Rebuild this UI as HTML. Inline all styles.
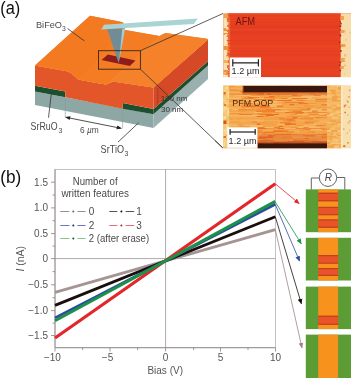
<!DOCTYPE html>
<html><head><meta charset="utf-8">
<style>
html,body{margin:0;padding:0;background:#fff;width:351px;height:378px;overflow:hidden}
svg{display:block}
text{font-family:"Liberation Sans",sans-serif}
</style></head><body>
<svg width="351" height="378" viewBox="0 0 351 378">
<filter id="bl" x="0" y="0" width="1" height="1"><feGaussianBlur stdDeviation="0.35"/></filter>
<g filter="url(#bl)">
<rect width="351" height="378" fill="#fff"/>

<!-- ===== Panel (a) 3D block ===== -->
<g id="block">
  <!-- substrate (gray) front face -->
  <polygon points="35,91.5 153.5,114.3 153.5,128 35,105" fill="#8da7a5"/>
  <!-- substrate right face -->
  <polygon points="153.5,114.3 208,65.6 208,79 153.5,128" fill="#9ab0ae"/>
  <!-- green SrRuO3 front left electrode -->
  <polygon points="35,85.7 65.3,91.4 65.3,97.2 35,91.5" fill="#1f4f2e"/>
  <!-- green front right electrode -->
  <polygon points="122.8,103.1 153.5,109 153.5,114.3 122.8,108.8" fill="#1f4f2e"/>
  <!-- green right face -->
  <polygon points="153.5,109 208,61.2 208,65.6 153.5,114.3" fill="#1f4f2e"/>
  <!-- BFO front face -->
  <polygon points="35,65.5 60,70 66,71 69.1,72 72.5,74.2 78.2,79.4 95,82.7 106.4,84.4 109.8,82.7 113.2,81.5 153.5,87.5 153.5,109 122.8,103.1 122.8,108.8 65.3,97.2 65.3,91.4 35,85.7" fill="#e2572a"/>
  <!-- BFO right face -->
  <polygon points="153.5,87.5 208,39.5 208,61.2 153.5,109" fill="#d64926"/>
  <!-- BFO top face base -->
  <polygon points="35,65.5 90,15.7 123,22.2 125,30 159.3,35.9 165.5,33 207,38.8 208,39.5 153.5,87.5 113.2,81.5 109.8,82.7 106.4,84.4 95,82.7 78.2,79.4 72.5,74.2 69.1,72 66,71 60,70" fill="#f47c23"/>
  <!-- BFO top face: left plateau -->
  <polygon points="35,65.5 90,15.7 123,22.2 66,71 60,70" fill="#f47a20"/>
  <!-- left wall -->
  <polygon points="66,71 123,22.2 125,30 78.2,79.4 72.5,74.2 69.1,72" fill="#f47a21"/>
  <!-- trench floor -->
  <polygon points="78.2,79.4 125,30 159.3,35.9 106.4,84.4 95,82.7" fill="#f47c22"/>
  <!-- right wall -->
  <polygon points="106.4,84.4 159.3,35.9 165.5,33 113.2,81.5 109.8,82.7" fill="#f5842b"/>
  <!-- right plateau -->
  <polygon points="113.2,81.5 165.5,33 207,38.8 208,39.5 153.5,87.5" fill="#f5822a"/>
  <!-- written domain -->
  <polygon points="107.9,54.4 135.5,60.4 129.8,65.9 101.5,59.9" fill="#8e1a1f"/>
  <!-- cantilever -->
  <polygon points="104,24.7 197.8,18.4 193.8,24 101.2,29.5" fill="#a9d4d3"/>
  <!-- tip (pyramid) -->
  <polygon points="107.3,29.3 125.2,28.6 118.6,63" fill="#6f8d97"/>
  <polygon points="122.3,28.8 125.2,28.6 119,62" fill="#a6cdd0"/>
  <!-- zoom box -->
  <rect x="98.5" y="50.7" width="41.9" height="18.5" fill="none" stroke="#3a2418" stroke-width="0.9"/>
  <line x1="140.4" y1="50.7" x2="223" y2="13.5" stroke="#333" stroke-width="0.8"/>
  <line x1="140.4" y1="69.2" x2="222.7" y2="147.8" stroke="#333" stroke-width="0.8"/>
  <!-- BiFeO3 leader -->
  <line x1="67.5" y1="28.5" x2="84.5" y2="41" stroke="#333" stroke-width="0.8"/>
  <!-- SrRuO3 leader -->
  <line x1="51.4" y1="92.8" x2="48.5" y2="117.7" stroke="#333" stroke-width="0.8"/>
  <!-- SrTiO3 leader -->
  <line x1="138.6" y1="122.8" x2="118" y2="142.1" stroke="#333" stroke-width="0.8"/>
  <!-- 6um dimension -->
  <line x1="65.3" y1="97.2" x2="65.3" y2="117.5" stroke="#8a9a9a" stroke-width="0.6"/>
  <line x1="122.6" y1="108.6" x2="122.6" y2="128.5" stroke="#8a9a9a" stroke-width="0.6"/>
  <line x1="67" y1="117.5" x2="120.5" y2="128.2" stroke="#222" stroke-width="0.8"/>
  <polygon points="65,117.1 70.5,116.2 69.6,120" fill="#222"/>
  <polygon points="122,128.5 116.3,129.3 117.5,125.6" fill="#222"/>
  <!-- 100 nm dimension -->
  <line x1="157.8" y1="88" x2="157.8" y2="106" stroke="#333" stroke-width="0.6" stroke-dasharray="1,0.8"/>
</g>

<!-- texts panel a -->
<g fill="#4a4a4a">
  <text x="0.2" y="14" font-size="18.9" fill="#111" textLength="20" lengthAdjust="spacingAndGlyphs">(a)</text>
  <text x="36" y="27.6" font-size="9.9" textLength="26" lengthAdjust="spacingAndGlyphs">BiFeO</text>
  <text x="62" y="31.3" font-size="6.8">3</text>
  <text x="30.6" y="130.2" font-size="10.2" textLength="27" lengthAdjust="spacingAndGlyphs">SrRuO</text>
  <text x="58.4" y="133.3" font-size="7">3</text>
  <text x="100.6" y="152.8" font-size="10.2" textLength="23.4" lengthAdjust="spacingAndGlyphs">SrTiO</text>
  <text x="124.6" y="156" font-size="7">3</text>
  <text x="80" y="132.7" font-size="9.4" textLength="18.8" lengthAdjust="spacingAndGlyphs">6 <tspan font-style="italic">µ</tspan>m</text>
  <text x="160.7" y="100.5" font-size="8" fill="#333">100 nm</text>
  <text x="161" y="111.6" font-size="8" fill="#333">30 nm</text>
</g>
<!-- ===== AFM image ===== -->
<defs><clipPath id="cafm"><rect x="223.2" y="13.2" width="127.8" height="64"/></clipPath><clipPath id="cpfm"><rect x="223.2" y="85.5" width="127.8" height="62.8"/></clipPath></defs>
<g id="afm" clip-path="url(#cafm)">
  <rect x="223.2" y="13.2" width="127.8" height="64" fill="#e6472a"/>
  <rect x="223.2" y="13.2" width="6.5" height="64" fill="#f8dfae"/>
  <rect x="340.5" y="13.2" width="10.5" height="64" fill="#f7dca8"/>
<rect x="229.7" y="13.2" width="110.8" height="2.0" fill="#e94723"/>
<rect x="229.7" y="15.2" width="110.8" height="2.5" fill="#e84322"/>
<rect x="229.7" y="17.7" width="110.8" height="1.0" fill="#e94622"/>
<rect x="229.7" y="18.7" width="110.8" height="1.0" fill="#e64021"/>
<rect x="229.7" y="19.7" width="110.8" height="1.0" fill="#e94723"/>
<rect x="229.7" y="20.7" width="110.8" height="1.5" fill="#e43e20"/>
<rect x="229.7" y="22.2" width="110.8" height="2.5" fill="#e74121"/>
<rect x="229.7" y="24.7" width="110.8" height="1.5" fill="#e43e20"/>
<rect x="229.7" y="26.2" width="110.8" height="2.5" fill="#e43e20"/>
<rect x="229.7" y="28.7" width="110.8" height="1.0" fill="#e94723"/>
<rect x="229.7" y="29.7" width="110.8" height="1.0" fill="#e84222"/>
<rect x="229.7" y="30.7" width="110.8" height="2.5" fill="#e43e20"/>
<rect x="229.7" y="33.2" width="110.8" height="1.5" fill="#e43e20"/>
<rect x="229.7" y="34.7" width="110.8" height="1.5" fill="#e64021"/>
<rect x="229.7" y="36.2" width="110.8" height="1.5" fill="#e84222"/>
<rect x="229.7" y="37.7" width="110.8" height="2.0" fill="#e84222"/>
<rect x="229.7" y="39.7" width="110.8" height="1.5" fill="#e43e20"/>
<rect x="229.7" y="41.2" width="110.8" height="1.5" fill="#e64021"/>
<rect x="229.7" y="42.7" width="110.8" height="1.0" fill="#e84222"/>
<rect x="229.7" y="43.7" width="110.8" height="1.5" fill="#e74121"/>
<rect x="229.7" y="45.2" width="110.8" height="2.5" fill="#e94522"/>
<rect x="229.7" y="47.7" width="110.8" height="2.5" fill="#e84322"/>
<rect x="229.7" y="50.2" width="110.8" height="2.5" fill="#e64021"/>
<rect x="229.7" y="52.7" width="110.8" height="1.5" fill="#e94522"/>
<rect x="229.7" y="54.2" width="110.8" height="1.5" fill="#e43e20"/>
<rect x="229.7" y="55.7" width="110.8" height="2.0" fill="#e84222"/>
<rect x="229.7" y="57.7" width="110.8" height="2.0" fill="#e84422"/>
<rect x="229.7" y="59.7" width="110.8" height="2.0" fill="#e84322"/>
<rect x="229.7" y="61.7" width="110.8" height="1.0" fill="#e43e20"/>
<rect x="229.7" y="62.7" width="110.8" height="2.5" fill="#e53f21"/>
<rect x="229.7" y="65.2" width="110.8" height="2.0" fill="#e53f21"/>
<rect x="229.7" y="67.2" width="110.8" height="2.5" fill="#e74121"/>
<rect x="229.7" y="69.7" width="110.8" height="1.0" fill="#e94522"/>
<rect x="229.7" y="70.7" width="110.8" height="2.0" fill="#e64021"/>
<rect x="229.7" y="72.7" width="110.8" height="2.0" fill="#e84322"/>
<rect x="229.7" y="74.7" width="110.8" height="2.5" fill="#e43e20"/>
<rect x="226.9" y="13.2" width="3.3" height="1.1" fill="#e84a26"/>
<rect x="226.4" y="14.3" width="3.8" height="2.0" fill="#e84a26"/>
<rect x="227.7" y="16.3" width="2.5" height="1.5" fill="#e84a26"/>
<rect x="226.9" y="17.8" width="3.3" height="2.2" fill="#ec6630"/>
<rect x="227.1" y="20.0" width="3.1" height="2.3" fill="#ec6630"/>
<rect x="227.8" y="22.4" width="2.4" height="1.5" fill="#ec6630"/>
<rect x="228.2" y="23.9" width="2.0" height="1.1" fill="#ea5a2c"/>
<rect x="227.2" y="25.0" width="3.0" height="2.1" fill="#ec6630"/>
<rect x="227.4" y="27.1" width="2.8" height="1.1" fill="#e84a26"/>
<rect x="226.6" y="28.2" width="3.6" height="1.4" fill="#ec6630"/>
<rect x="226.9" y="29.6" width="3.3" height="2.3" fill="#ec6630"/>
<rect x="228.0" y="31.9" width="2.2" height="2.5" fill="#ec6630"/>
<rect x="226.6" y="34.4" width="3.6" height="2.4" fill="#ea5a2c"/>
<rect x="227.9" y="36.8" width="2.3" height="1.2" fill="#ea5a2c"/>
<rect x="227.7" y="38.1" width="2.5" height="1.7" fill="#ec6630"/>
<rect x="226.6" y="39.8" width="3.6" height="1.4" fill="#e84a26"/>
<rect x="227.7" y="41.2" width="2.5" height="1.6" fill="#ea5a2c"/>
<rect x="227.5" y="42.8" width="2.7" height="2.0" fill="#e84a26"/>
<rect x="228.1" y="44.8" width="2.1" height="2.0" fill="#ec6630"/>
<rect x="228.2" y="46.8" width="2.0" height="2.3" fill="#e84a26"/>
<rect x="227.2" y="49.1" width="3.0" height="2.2" fill="#ec6630"/>
<rect x="227.5" y="51.3" width="2.7" height="1.6" fill="#ec6630"/>
<rect x="226.4" y="52.9" width="3.8" height="1.1" fill="#ea5a2c"/>
<rect x="226.5" y="54.0" width="3.7" height="1.7" fill="#e84a26"/>
<rect x="226.2" y="55.7" width="4.0" height="1.1" fill="#ea5a2c"/>
<rect x="228.7" y="56.8" width="1.5" height="1.8" fill="#e84a26"/>
<rect x="228.5" y="58.6" width="1.7" height="1.0" fill="#e84a26"/>
<rect x="227.8" y="59.6" width="2.4" height="1.6" fill="#ec6630"/>
<rect x="227.4" y="61.2" width="2.8" height="1.9" fill="#ea5a2c"/>
<rect x="228.8" y="63.1" width="1.4" height="2.3" fill="#ec6630"/>
<rect x="227.0" y="65.3" width="3.2" height="1.7" fill="#ea5a2c"/>
<rect x="227.1" y="67.1" width="3.1" height="1.2" fill="#ec6630"/>
<rect x="228.0" y="68.2" width="2.2" height="1.7" fill="#e84a26"/>
<rect x="228.7" y="69.9" width="1.5" height="1.0" fill="#e84a26"/>
<rect x="228.0" y="71.0" width="2.2" height="1.5" fill="#ea5a2c"/>
<rect x="227.0" y="72.5" width="3.2" height="2.1" fill="#e84a26"/>
<rect x="228.0" y="74.7" width="2.2" height="2.3" fill="#ec6630"/>
<rect x="228.6" y="76.9" width="1.6" height="0.3" fill="#ec6630"/>
<rect x="223.5" y="14.0" width="4.5" height="4.0" fill="#f2a048"/>
<rect x="223.5" y="28.0" width="4.5" height="3.0" fill="#ee9040"/>
<rect x="223.5" y="33.0" width="4.5" height="2.0" fill="#ee9040"/>
<rect x="223.5" y="46.0" width="4.5" height="4.0" fill="#ee9040"/>
<rect x="223.5" y="60.0" width="4.5" height="3.0" fill="#f0b058"/>
<rect x="223.5" y="70.0" width="4.5" height="5.0" fill="#ee9040"/>
<rect x="225.9" y="27.0" width="2.5" height="2.3" fill="#f8e4b8"/>
<rect x="225.6" y="63.8" width="1.3" height="1.8" fill="#f6d498"/>
<rect x="226.5" y="58.4" width="2.2" height="1.7" fill="#f8e4b8"/>
<rect x="226.4" y="56.0" width="1.7" height="2.4" fill="#f6d498"/>
<rect x="224.4" y="72.2" width="1.3" height="1.3" fill="#f8e4b8"/>
<rect x="224.8" y="34.1" width="2.5" height="1.9" fill="#f8e4b8"/>
<rect x="225.4" y="42.8" width="2.2" height="1.1" fill="#fbecc8"/>
<rect x="224.5" y="20.6" width="2.1" height="1.3" fill="#f8e4b8"/>
<rect x="225.3" y="40.0" width="1.1" height="2.4" fill="#fbecc8"/>
<rect x="224.5" y="37.7" width="2.4" height="2.1" fill="#f8e4b8"/>
<rect x="223.3" y="74.6" width="1.9" height="1.7" fill="#fbecc8"/>
<rect x="225.9" y="22.2" width="2.5" height="2.0" fill="#f6d498"/>
<rect x="225.0" y="22.8" width="1.0" height="2.2" fill="#fbecc8"/>
<rect x="224.9" y="53.3" width="2.4" height="1.7" fill="#f8e4b8"/>
<rect x="339.1" y="64.6" width="1.3" height="1.3" fill="#a8201a"/>
<rect x="339.7" y="29.4" width="1.3" height="1.4" fill="#a8201a"/>
<rect x="340.3" y="22.9" width="1.4" height="1.5" fill="#a8201a"/>
<rect x="340.2" y="50.0" width="1.4" height="1.9" fill="#a8201a"/>
<rect x="339.7" y="45.1" width="1.5" height="1.0" fill="#a8201a"/>
<rect x="339.1" y="41.4" width="1.0" height="1.8" fill="#a8201a"/>
<rect x="339.6" y="25.3" width="1.7" height="1.6" fill="#a8201a"/>
<rect x="339.6" y="34.6" width="1.6" height="1.8" fill="#a8201a"/>
<rect x="339.7" y="21.4" width="1.2" height="1.3" fill="#a8201a"/>
<rect x="339.6" y="61.3" width="1.6" height="1.8" fill="#a8201a"/>
<rect x="339.5" y="69.7" width="1.6" height="1.5" fill="#a8201a"/>
<rect x="339.9" y="45.7" width="1.5" height="1.5" fill="#a8201a"/>
<rect x="340.5" y="16.0" width="3.4" height="4.0" fill="#f0a050"/>
<rect x="340.5" y="30.0" width="4.1" height="3.0" fill="#eea060"/>
<rect x="340.5" y="44.0" width="4.8" height="3.0" fill="#f0a050"/>
<rect x="340.5" y="58.0" width="4.5" height="4.0" fill="#f0a050"/>
<rect x="340.5" y="66.0" width="3.2" height="3.0" fill="#eea060"/>
<rect x="343.5" y="40.5" width="1.4" height="1.1" fill="#f6d0a0"/>
<rect x="343.9" y="31.9" width="2.2" height="2.4" fill="#f6d0a0"/>
<rect x="344.0" y="54.0" width="2.3" height="2.5" fill="#f4c080"/>
<rect x="343.7" y="59.3" width="2.3" height="1.2" fill="#f6d0a0"/>
<rect x="344.1" y="64.6" width="1.6" height="1.8" fill="#f2b878"/>
<rect x="345.5" y="39.2" width="1.1" height="1.5" fill="#f2b878"/>
<rect x="346.1" y="47.4" width="1.0" height="1.5" fill="#f6d0a0"/>
<rect x="349.7" y="31.5" width="1.2" height="2.4" fill="#f4c080"/>
<rect x="343.7" y="73.3" width="1.4" height="1.1" fill="#f4c080"/>
<rect x="343.9" y="29.9" width="1.6" height="2.4" fill="#f2b878"/>
  <rect x="229.7" y="57.5" width="31.3" height="19.6" fill="#fff"/>
  <line x1="232.5" y1="62.8" x2="258.7" y2="62.8" stroke="#222" stroke-width="1.2"/>
  <line x1="232.8" y1="59.2" x2="232.8" y2="66.4" stroke="#222" stroke-width="1.2"/>
  <line x1="258.4" y1="59.2" x2="258.4" y2="66.4" stroke="#222" stroke-width="1.2"/>
  <text x="231.6" y="74.3" font-size="9.8" fill="#2a2a2a" textLength="28" lengthAdjust="spacingAndGlyphs">1.2 µm</text>
  <text x="235.4" y="24.6" font-size="10.3" fill="#6e1510" textLength="19.8" lengthAdjust="spacingAndGlyphs">AFM</text>
</g>

<!-- ===== PFM image ===== -->
<g id="pfm" clip-path="url(#cpfm)">
  <rect x="223.2" y="85.5" width="127.8" height="62.8" fill="#f09a40"/>
  <rect x="223.2" y="85.5" width="6" height="63" fill="#f5cf85"/>
  <rect x="327" y="85.5" width="14.5" height="63" fill="#f3a248"/>
  <rect x="341.5" y="85.5" width="9.5" height="63" fill="#f8dfae"/>
<rect x="229.2" y="85.5" width="5.2" height="1.7" fill="#ef9242"/>
<rect x="234.1" y="85.5" width="10.7" height="1.7" fill="#f3a94e"/>
<rect x="244.6" y="85.5" width="7.6" height="1.7" fill="#ee8230"/>
<rect x="251.8" y="85.5" width="4.0" height="1.7" fill="#f3a044"/>
<rect x="255.6" y="85.5" width="5.7" height="1.7" fill="#f2963a"/>
<rect x="260.9" y="85.5" width="6.8" height="1.7" fill="#f2963a"/>
<rect x="267.4" y="85.5" width="11.5" height="1.7" fill="#f4a54b"/>
<rect x="278.7" y="85.5" width="6.7" height="1.7" fill="#ea7028"/>
<rect x="285.1" y="85.5" width="14.4" height="1.7" fill="#f2973b"/>
<rect x="299.2" y="85.5" width="6.7" height="1.7" fill="#f29a3f"/>
<rect x="305.6" y="85.5" width="9.2" height="1.7" fill="#ef8937"/>
<rect x="314.5" y="85.5" width="12.8" height="1.7" fill="#f6b864"/>
<rect x="229.2" y="87.0" width="11.4" height="1.2" fill="#f3a74c"/>
<rect x="240.3" y="87.0" width="10.1" height="1.2" fill="#f5ad54"/>
<rect x="250.1" y="87.0" width="15.5" height="1.2" fill="#f5aa52"/>
<rect x="265.3" y="87.0" width="6.7" height="1.2" fill="#f5aa52"/>
<rect x="271.7" y="87.0" width="5.9" height="1.2" fill="#ee802e"/>
<rect x="277.4" y="87.0" width="11.5" height="1.2" fill="#ea7028"/>
<rect x="288.5" y="87.0" width="13.2" height="1.2" fill="#ee8331"/>
<rect x="301.4" y="87.0" width="9.1" height="1.2" fill="#f3a348"/>
<rect x="310.2" y="87.0" width="5.6" height="1.2" fill="#ef8b39"/>
<rect x="315.5" y="87.0" width="11.8" height="1.2" fill="#f08d3b"/>
<rect x="229.2" y="88.0" width="3.5" height="1.2" fill="#f4ad52"/>
<rect x="232.4" y="88.0" width="9.9" height="1.2" fill="#f5b158"/>
<rect x="242.0" y="88.0" width="10.0" height="1.2" fill="#f5ac53"/>
<rect x="251.7" y="88.0" width="15.5" height="1.2" fill="#f2963a"/>
<rect x="266.8" y="88.0" width="11.9" height="1.2" fill="#f3a044"/>
<rect x="278.4" y="88.0" width="8.9" height="1.2" fill="#f7ba66"/>
<rect x="287.0" y="88.0" width="10.4" height="1.2" fill="#f6b965"/>
<rect x="297.1" y="88.0" width="15.9" height="1.2" fill="#ef8634"/>
<rect x="312.7" y="88.0" width="12.2" height="1.2" fill="#f5ac55"/>
<rect x="324.6" y="88.0" width="2.7" height="1.2" fill="#f4a951"/>
<rect x="229.2" y="89.0" width="8.6" height="1.2" fill="#f19b46"/>
<rect x="237.5" y="89.0" width="16.1" height="1.2" fill="#f4aa50"/>
<rect x="253.2" y="89.0" width="5.0" height="1.2" fill="#f2963a"/>
<rect x="257.9" y="89.0" width="11.4" height="1.2" fill="#ee802e"/>
<rect x="269.0" y="89.0" width="8.9" height="1.2" fill="#f2963a"/>
<rect x="277.6" y="89.0" width="4.4" height="1.2" fill="#f4a54b"/>
<rect x="281.7" y="89.0" width="8.3" height="1.2" fill="#ea7028"/>
<rect x="289.7" y="89.0" width="12.0" height="1.2" fill="#ee8331"/>
<rect x="301.4" y="89.0" width="11.1" height="1.2" fill="#f3a348"/>
<rect x="312.2" y="89.0" width="7.1" height="1.2" fill="#f6b864"/>
<rect x="319.0" y="89.0" width="5.7" height="1.2" fill="#f08f3c"/>
<rect x="324.4" y="89.0" width="2.9" height="1.2" fill="#f0913e"/>
<rect x="229.2" y="90.0" width="15.8" height="1.2" fill="#ef9242"/>
<rect x="244.7" y="90.0" width="7.5" height="1.2" fill="#f2973b"/>
<rect x="251.9" y="90.0" width="15.9" height="1.2" fill="#ee802e"/>
<rect x="267.5" y="90.0" width="6.1" height="1.2" fill="#f5aa52"/>
<rect x="273.3" y="90.0" width="3.3" height="1.2" fill="#f7ba66"/>
<rect x="276.3" y="90.0" width="4.4" height="1.2" fill="#ee802e"/>
<rect x="280.4" y="90.0" width="9.8" height="1.2" fill="#f5aa52"/>
<rect x="289.9" y="90.0" width="6.5" height="1.2" fill="#f4a64c"/>
<rect x="296.2" y="90.0" width="3.4" height="1.2" fill="#ee8634"/>
<rect x="299.2" y="90.0" width="13.9" height="1.2" fill="#f5ab54"/>
<rect x="312.8" y="90.0" width="8.5" height="1.2" fill="#f29d43"/>
<rect x="321.0" y="90.0" width="6.3" height="1.2" fill="#f08f3d"/>
<rect x="229.2" y="91.0" width="11.5" height="1.2" fill="#f3a74c"/>
<rect x="240.4" y="91.0" width="10.9" height="1.2" fill="#eb7b30"/>
<rect x="251.0" y="91.0" width="14.4" height="1.2" fill="#f5aa52"/>
<rect x="265.1" y="91.0" width="11.8" height="1.2" fill="#f3a044"/>
<rect x="276.6" y="91.0" width="13.5" height="1.2" fill="#ea7028"/>
<rect x="289.8" y="91.0" width="8.4" height="1.2" fill="#ee8331"/>
<rect x="297.9" y="91.0" width="12.7" height="1.2" fill="#f6b965"/>
<rect x="310.3" y="91.0" width="5.2" height="1.2" fill="#f3a44a"/>
<rect x="315.2" y="91.0" width="11.3" height="1.2" fill="#f5ac55"/>
<rect x="326.2" y="91.0" width="1.1" height="1.2" fill="#f4aa52"/>
<rect x="229.2" y="92.0" width="12.8" height="1.7" fill="#f4b056"/>
<rect x="241.7" y="92.0" width="9.9" height="1.7" fill="#eb782e"/>
<rect x="251.3" y="92.0" width="13.1" height="1.7" fill="#ea7028"/>
<rect x="264.1" y="92.0" width="14.2" height="1.7" fill="#f4a54b"/>
<rect x="278.0" y="92.0" width="3.5" height="1.7" fill="#f3a044"/>
<rect x="281.2" y="92.0" width="10.9" height="1.7" fill="#f3a044"/>
<rect x="291.8" y="92.0" width="12.2" height="1.7" fill="#f3a146"/>
<rect x="303.6" y="92.0" width="11.7" height="1.7" fill="#f29b40"/>
<rect x="315.0" y="92.0" width="3.7" height="1.7" fill="#f5ac55"/>
<rect x="318.4" y="92.0" width="8.9" height="1.7" fill="#f39e44"/>
<rect x="229.2" y="93.5" width="14.2" height="1.7" fill="#ef9242"/>
<rect x="243.1" y="93.5" width="4.0" height="1.7" fill="#f2993d"/>
<rect x="246.7" y="93.5" width="11.4" height="1.7" fill="#f3a044"/>
<rect x="257.9" y="93.5" width="6.5" height="1.7" fill="#ee802e"/>
<rect x="264.0" y="93.5" width="3.3" height="1.7" fill="#f4a54b"/>
<rect x="267.1" y="93.5" width="4.2" height="1.7" fill="#ea7028"/>
<rect x="271.0" y="93.5" width="15.0" height="1.7" fill="#f2963a"/>
<rect x="285.7" y="93.5" width="11.9" height="1.7" fill="#f2973b"/>
<rect x="297.2" y="93.5" width="13.0" height="1.7" fill="#f6b965"/>
<rect x="309.9" y="93.5" width="6.6" height="1.7" fill="#f29c42"/>
<rect x="316.2" y="93.5" width="11.1" height="1.7" fill="#f5ac55"/>
<rect x="229.2" y="95.0" width="6.3" height="1.2" fill="#f4ad52"/>
<rect x="235.2" y="95.0" width="16.0" height="1.2" fill="#f6bb65"/>
<rect x="250.9" y="95.0" width="14.3" height="1.2" fill="#f2963a"/>
<rect x="264.9" y="95.0" width="9.5" height="1.2" fill="#f3a044"/>
<rect x="274.1" y="95.0" width="7.0" height="1.2" fill="#f2963a"/>
<rect x="280.8" y="95.0" width="11.3" height="1.2" fill="#f3a044"/>
<rect x="291.9" y="95.0" width="5.9" height="1.2" fill="#eb762c"/>
<rect x="297.4" y="95.0" width="5.2" height="1.2" fill="#ef8634"/>
<rect x="302.4" y="95.0" width="11.8" height="1.2" fill="#f3a348"/>
<rect x="313.8" y="95.0" width="7.3" height="1.2" fill="#ed8136"/>
<rect x="320.8" y="95.0" width="5.0" height="1.2" fill="#f6b864"/>
<rect x="325.5" y="95.0" width="1.8" height="1.2" fill="#f0913e"/>
<rect x="229.2" y="96.0" width="12.3" height="1.2" fill="#f4ad52"/>
<rect x="241.2" y="96.0" width="9.7" height="1.2" fill="#f3a348"/>
<rect x="250.6" y="96.0" width="10.0" height="1.2" fill="#f7ba66"/>
<rect x="260.3" y="96.0" width="9.4" height="1.2" fill="#f4a54b"/>
<rect x="269.3" y="96.0" width="4.8" height="1.2" fill="#ea7028"/>
<rect x="273.9" y="96.0" width="5.9" height="1.2" fill="#f2963a"/>
<rect x="279.5" y="96.0" width="15.5" height="1.2" fill="#f2963a"/>
<rect x="294.6" y="96.0" width="7.1" height="1.2" fill="#f2993e"/>
<rect x="301.4" y="96.0" width="14.0" height="1.2" fill="#f6b965"/>
<rect x="315.1" y="96.0" width="12.2" height="1.2" fill="#f6b864"/>
<rect x="229.2" y="97.0" width="15.2" height="1.2" fill="#f5b25a"/>
<rect x="244.1" y="97.0" width="4.3" height="1.2" fill="#f2973c"/>
<rect x="248.1" y="97.0" width="5.1" height="1.2" fill="#ea7028"/>
<rect x="252.9" y="97.0" width="6.7" height="1.2" fill="#ee802e"/>
<rect x="259.3" y="97.0" width="5.0" height="1.2" fill="#f4a54b"/>
<rect x="264.1" y="97.0" width="11.5" height="1.2" fill="#ee802e"/>
<rect x="275.3" y="97.0" width="14.8" height="1.2" fill="#f3a044"/>
<rect x="289.8" y="97.0" width="8.0" height="1.2" fill="#f6b965"/>
<rect x="297.5" y="97.0" width="15.0" height="1.2" fill="#f6b965"/>
<rect x="312.2" y="97.0" width="8.4" height="1.2" fill="#f5ac55"/>
<rect x="320.3" y="97.0" width="3.3" height="1.2" fill="#f6b864"/>
<rect x="323.4" y="97.0" width="3.9" height="1.2" fill="#f6b864"/>
<rect x="229.2" y="98.0" width="12.8" height="1.2" fill="#f6bb65"/>
<rect x="241.7" y="98.0" width="7.8" height="1.2" fill="#ee8734"/>
<rect x="249.1" y="98.0" width="4.9" height="1.2" fill="#ee802e"/>
<rect x="253.7" y="98.0" width="3.3" height="1.2" fill="#f4a54b"/>
<rect x="256.7" y="98.0" width="7.7" height="1.2" fill="#f7ba66"/>
<rect x="264.1" y="98.0" width="4.9" height="1.2" fill="#f5aa52"/>
<rect x="268.7" y="98.0" width="12.6" height="1.2" fill="#f3a044"/>
<rect x="280.9" y="98.0" width="7.1" height="1.2" fill="#ee802e"/>
<rect x="287.7" y="98.0" width="4.1" height="1.2" fill="#f6b965"/>
<rect x="291.6" y="98.0" width="16.3" height="1.2" fill="#eb752c"/>
<rect x="307.5" y="98.0" width="4.3" height="1.2" fill="#f6b864"/>
<rect x="311.5" y="98.0" width="13.1" height="1.2" fill="#f4a84f"/>
<rect x="324.4" y="98.0" width="2.9" height="1.2" fill="#f39f46"/>
<rect x="229.2" y="99.0" width="14.2" height="1.2" fill="#f19b46"/>
<rect x="243.1" y="99.0" width="11.6" height="1.2" fill="#f5ab53"/>
<rect x="254.3" y="99.0" width="6.5" height="1.2" fill="#ee802e"/>
<rect x="260.5" y="99.0" width="9.0" height="1.2" fill="#ee802e"/>
<rect x="269.2" y="99.0" width="5.8" height="1.2" fill="#ee802e"/>
<rect x="274.7" y="99.0" width="13.5" height="1.2" fill="#f7ba66"/>
<rect x="287.9" y="99.0" width="14.8" height="1.2" fill="#f4a54c"/>
<rect x="302.4" y="99.0" width="13.2" height="1.2" fill="#f6b864"/>
<rect x="315.3" y="99.0" width="12.0" height="1.2" fill="#ed8136"/>
<rect x="229.2" y="100.0" width="12.7" height="1.2" fill="#f3a74c"/>
<rect x="241.6" y="100.0" width="15.4" height="1.2" fill="#f6ba65"/>
<rect x="256.7" y="100.0" width="9.2" height="1.2" fill="#f4a54b"/>
<rect x="265.6" y="100.0" width="5.1" height="1.2" fill="#f4a54b"/>
<rect x="270.4" y="100.0" width="7.0" height="1.2" fill="#f2963a"/>
<rect x="277.1" y="100.0" width="15.2" height="1.2" fill="#ea7028"/>
<rect x="291.9" y="100.0" width="5.0" height="1.2" fill="#f6b965"/>
<rect x="296.6" y="100.0" width="8.7" height="1.2" fill="#ee8634"/>
<rect x="305.0" y="100.0" width="7.2" height="1.2" fill="#f3a349"/>
<rect x="311.8" y="100.0" width="12.9" height="1.2" fill="#f3a44a"/>
<rect x="324.5" y="100.0" width="2.8" height="1.2" fill="#f3a64d"/>
<rect x="229.2" y="101.0" width="7.2" height="1.2" fill="#ef9242"/>
<rect x="236.1" y="101.0" width="12.0" height="1.2" fill="#f3a044"/>
<rect x="247.8" y="101.0" width="5.5" height="1.2" fill="#f5aa52"/>
<rect x="253.0" y="101.0" width="4.3" height="1.2" fill="#ea7028"/>
<rect x="257.0" y="101.0" width="15.1" height="1.2" fill="#f7ba66"/>
<rect x="271.7" y="101.0" width="10.5" height="1.2" fill="#f7ba66"/>
<rect x="281.9" y="101.0" width="15.1" height="1.2" fill="#f4a54b"/>
<rect x="296.7" y="101.0" width="9.1" height="1.2" fill="#f5ab53"/>
<rect x="305.5" y="101.0" width="10.4" height="1.2" fill="#f5ab54"/>
<rect x="315.6" y="101.0" width="4.5" height="1.2" fill="#f08d3b"/>
<rect x="319.8" y="101.0" width="7.5" height="1.2" fill="#f08f3c"/>
<rect x="229.2" y="102.0" width="8.1" height="1.2" fill="#f4b056"/>
<rect x="237.0" y="102.0" width="10.7" height="1.2" fill="#f29f44"/>
<rect x="247.4" y="102.0" width="13.0" height="1.2" fill="#f7ba66"/>
<rect x="260.1" y="102.0" width="8.3" height="1.2" fill="#f3a044"/>
<rect x="268.1" y="102.0" width="10.1" height="1.2" fill="#f7ba66"/>
<rect x="277.9" y="102.0" width="6.8" height="1.2" fill="#f4a54b"/>
<rect x="284.4" y="102.0" width="4.1" height="1.2" fill="#ee812f"/>
<rect x="288.2" y="102.0" width="10.8" height="1.2" fill="#ee8331"/>
<rect x="298.7" y="102.0" width="4.9" height="1.2" fill="#eb792f"/>
<rect x="303.4" y="102.0" width="10.2" height="1.2" fill="#f4a74e"/>
<rect x="313.2" y="102.0" width="14.1" height="1.2" fill="#f5ac55"/>
<rect x="229.2" y="103.0" width="6.8" height="1.2" fill="#f5b25a"/>
<rect x="235.7" y="103.0" width="8.3" height="1.2" fill="#f3a84c"/>
<rect x="243.7" y="103.0" width="9.1" height="1.2" fill="#ee8331"/>
<rect x="252.5" y="103.0" width="14.3" height="1.2" fill="#f4a54b"/>
<rect x="266.6" y="103.0" width="15.9" height="1.2" fill="#f5aa52"/>
<rect x="282.1" y="103.0" width="3.7" height="1.2" fill="#f3a044"/>
<rect x="285.6" y="103.0" width="13.2" height="1.2" fill="#f4a54b"/>
<rect x="298.5" y="103.0" width="9.5" height="1.2" fill="#eb792f"/>
<rect x="307.6" y="103.0" width="9.7" height="1.2" fill="#f29c41"/>
<rect x="317.0" y="103.0" width="8.4" height="1.2" fill="#f4a950"/>
<rect x="325.1" y="103.0" width="2.2" height="1.2" fill="#f6b763"/>
<rect x="229.2" y="104.0" width="6.5" height="1.7" fill="#f3a74c"/>
<rect x="235.4" y="104.0" width="6.2" height="1.7" fill="#f5af57"/>
<rect x="241.3" y="104.0" width="10.1" height="1.7" fill="#f3a347"/>
<rect x="251.1" y="104.0" width="4.7" height="1.7" fill="#f4a54b"/>
<rect x="255.5" y="104.0" width="12.7" height="1.7" fill="#f3a044"/>
<rect x="267.9" y="104.0" width="14.3" height="1.7" fill="#f7ba66"/>
<rect x="281.9" y="104.0" width="4.4" height="1.7" fill="#f4a54b"/>
<rect x="286.0" y="104.0" width="3.8" height="1.7" fill="#f4a54b"/>
<rect x="289.6" y="104.0" width="4.9" height="1.7" fill="#ea742b"/>
<rect x="294.2" y="104.0" width="15.3" height="1.7" fill="#f3a246"/>
<rect x="309.1" y="104.0" width="12.6" height="1.7" fill="#f5ac55"/>
<rect x="321.4" y="104.0" width="5.9" height="1.7" fill="#ed8439"/>
<rect x="229.2" y="105.5" width="12.4" height="1.7" fill="#f3a74c"/>
<rect x="241.3" y="105.5" width="4.6" height="1.7" fill="#ee8734"/>
<rect x="245.6" y="105.5" width="10.1" height="1.7" fill="#ea7028"/>
<rect x="255.4" y="105.5" width="5.8" height="1.7" fill="#ee802e"/>
<rect x="260.9" y="105.5" width="6.2" height="1.7" fill="#ea7028"/>
<rect x="266.8" y="105.5" width="3.3" height="1.7" fill="#ea7028"/>
<rect x="269.8" y="105.5" width="7.2" height="1.7" fill="#f7ba66"/>
<rect x="276.7" y="105.5" width="6.9" height="1.7" fill="#ee802e"/>
<rect x="283.3" y="105.5" width="11.7" height="1.7" fill="#f5aa52"/>
<rect x="294.7" y="105.5" width="9.5" height="1.7" fill="#f5ab53"/>
<rect x="303.9" y="105.5" width="10.4" height="1.7" fill="#f29b40"/>
<rect x="314.0" y="105.5" width="13.3" height="1.7" fill="#f3a54b"/>
<rect x="229.2" y="107.0" width="4.0" height="1.2" fill="#f5b25a"/>
<rect x="232.9" y="107.0" width="9.8" height="1.2" fill="#f4aa4f"/>
<rect x="242.4" y="107.0" width="11.7" height="1.2" fill="#f2993e"/>
<rect x="253.8" y="107.0" width="6.6" height="1.2" fill="#f3a044"/>
<rect x="260.2" y="107.0" width="8.8" height="1.2" fill="#ee802e"/>
<rect x="268.7" y="107.0" width="6.2" height="1.2" fill="#f2963a"/>
<rect x="274.6" y="107.0" width="12.3" height="1.2" fill="#f3a044"/>
<rect x="286.7" y="107.0" width="8.8" height="1.2" fill="#f3a045"/>
<rect x="295.1" y="107.0" width="8.5" height="1.2" fill="#f2993e"/>
<rect x="303.3" y="107.0" width="13.7" height="1.2" fill="#f3a348"/>
<rect x="316.6" y="107.0" width="10.7" height="1.2" fill="#f39e44"/>
<rect x="229.2" y="108.0" width="9.7" height="1.2" fill="#f5b25a"/>
<rect x="238.6" y="108.0" width="7.4" height="1.2" fill="#f4a94f"/>
<rect x="245.7" y="108.0" width="5.8" height="1.2" fill="#f6ba65"/>
<rect x="251.2" y="108.0" width="6.2" height="1.2" fill="#f4a54b"/>
<rect x="257.1" y="108.0" width="14.9" height="1.2" fill="#f2963a"/>
<rect x="271.7" y="108.0" width="15.7" height="1.2" fill="#f7ba66"/>
<rect x="287.0" y="108.0" width="11.2" height="1.2" fill="#f5aa52"/>
<rect x="298.0" y="108.0" width="9.6" height="1.2" fill="#f3a247"/>
<rect x="307.3" y="108.0" width="4.0" height="1.2" fill="#ec7d33"/>
<rect x="311.0" y="108.0" width="5.2" height="1.2" fill="#f6b864"/>
<rect x="315.9" y="108.0" width="4.0" height="1.2" fill="#f39e44"/>
<rect x="319.6" y="108.0" width="7.7" height="1.2" fill="#f5ac56"/>
<rect x="229.2" y="109.0" width="4.0" height="1.7" fill="#f3a74c"/>
<rect x="232.9" y="109.0" width="5.7" height="1.7" fill="#f6bb65"/>
<rect x="238.3" y="109.0" width="15.0" height="1.7" fill="#ef8c39"/>
<rect x="252.9" y="109.0" width="12.8" height="1.7" fill="#f2963a"/>
<rect x="265.5" y="109.0" width="15.4" height="1.7" fill="#ee802e"/>
<rect x="280.6" y="109.0" width="5.8" height="1.7" fill="#f3a044"/>
<rect x="286.1" y="109.0" width="15.5" height="1.7" fill="#f3a045"/>
<rect x="301.2" y="109.0" width="9.4" height="1.7" fill="#ef8835"/>
<rect x="310.3" y="109.0" width="11.9" height="1.7" fill="#f6b864"/>
<rect x="321.9" y="109.0" width="5.4" height="1.7" fill="#f0903d"/>
<rect x="229.2" y="110.5" width="5.5" height="1.7" fill="#f3a74c"/>
<rect x="234.4" y="110.5" width="4.3" height="1.7" fill="#f3a246"/>
<rect x="238.4" y="110.5" width="7.9" height="1.7" fill="#f29e42"/>
<rect x="246.0" y="110.5" width="10.6" height="1.7" fill="#f4a54b"/>
<rect x="256.3" y="110.5" width="6.0" height="1.7" fill="#ee802e"/>
<rect x="262.0" y="110.5" width="13.3" height="1.7" fill="#ee802e"/>
<rect x="275.0" y="110.5" width="14.0" height="1.7" fill="#f7ba66"/>
<rect x="288.7" y="110.5" width="4.4" height="1.7" fill="#f3a145"/>
<rect x="292.8" y="110.5" width="9.5" height="1.7" fill="#ee8432"/>
<rect x="302.0" y="110.5" width="10.3" height="1.7" fill="#f6b965"/>
<rect x="312.0" y="110.5" width="5.8" height="1.7" fill="#ef8c39"/>
<rect x="317.5" y="110.5" width="9.8" height="1.7" fill="#f6b864"/>
<rect x="229.2" y="112.0" width="11.5" height="1.2" fill="#f5b25a"/>
<rect x="240.4" y="112.0" width="13.9" height="1.2" fill="#f4a84e"/>
<rect x="254.0" y="112.0" width="8.6" height="1.2" fill="#f7ba66"/>
<rect x="262.2" y="112.0" width="3.8" height="1.2" fill="#f2963a"/>
<rect x="265.7" y="112.0" width="13.7" height="1.2" fill="#f2963a"/>
<rect x="279.1" y="112.0" width="6.6" height="1.2" fill="#f3a044"/>
<rect x="285.5" y="112.0" width="4.1" height="1.2" fill="#ea722a"/>
<rect x="289.3" y="112.0" width="7.7" height="1.2" fill="#ee8331"/>
<rect x="296.7" y="112.0" width="7.7" height="1.2" fill="#eb782e"/>
<rect x="304.0" y="112.0" width="3.9" height="1.2" fill="#f3a349"/>
<rect x="307.6" y="112.0" width="12.6" height="1.2" fill="#ef8a38"/>
<rect x="319.9" y="112.0" width="7.4" height="1.2" fill="#f08f3c"/>
<rect x="229.2" y="113.0" width="12.7" height="1.2" fill="#ef9242"/>
<rect x="241.6" y="113.0" width="15.2" height="1.2" fill="#f3a347"/>
<rect x="256.5" y="113.0" width="15.6" height="1.2" fill="#f2963a"/>
<rect x="271.8" y="113.0" width="3.6" height="1.2" fill="#f5aa52"/>
<rect x="275.1" y="113.0" width="4.7" height="1.2" fill="#f3a044"/>
<rect x="279.5" y="113.0" width="15.7" height="1.2" fill="#f4a54b"/>
<rect x="294.9" y="113.0" width="8.3" height="1.2" fill="#ee8533"/>
<rect x="303.0" y="113.0" width="15.2" height="1.2" fill="#f4a74e"/>
<rect x="317.8" y="113.0" width="9.5" height="1.2" fill="#f6b864"/>
<rect x="229.2" y="114.0" width="3.4" height="1.2" fill="#f4ad52"/>
<rect x="232.3" y="114.0" width="7.2" height="1.2" fill="#f4aa4f"/>
<rect x="239.3" y="114.0" width="13.3" height="1.2" fill="#ec7d32"/>
<rect x="252.3" y="114.0" width="6.4" height="1.2" fill="#f4a54b"/>
<rect x="258.4" y="114.0" width="7.5" height="1.2" fill="#ee802e"/>
<rect x="265.5" y="114.0" width="13.5" height="1.2" fill="#ea7028"/>
<rect x="278.7" y="114.0" width="4.3" height="1.2" fill="#f5aa52"/>
<rect x="282.7" y="114.0" width="8.4" height="1.2" fill="#f5aa52"/>
<rect x="290.8" y="114.0" width="6.5" height="1.2" fill="#f2983d"/>
<rect x="297.1" y="114.0" width="11.7" height="1.2" fill="#f6b965"/>
<rect x="308.5" y="114.0" width="10.5" height="1.2" fill="#ef8b38"/>
<rect x="318.7" y="114.0" width="5.4" height="1.2" fill="#f6b864"/>
<rect x="323.8" y="114.0" width="3.5" height="1.2" fill="#f39f46"/>
<rect x="229.2" y="115.0" width="11.4" height="1.2" fill="#f5b25a"/>
<rect x="240.3" y="115.0" width="4.6" height="1.2" fill="#f6ba65"/>
<rect x="244.6" y="115.0" width="16.1" height="1.2" fill="#f6ba65"/>
<rect x="260.4" y="115.0" width="5.6" height="1.2" fill="#f5aa52"/>
<rect x="265.7" y="115.0" width="8.7" height="1.2" fill="#ea7028"/>
<rect x="274.1" y="115.0" width="14.9" height="1.2" fill="#f5aa52"/>
<rect x="288.7" y="115.0" width="13.0" height="1.2" fill="#f4a54c"/>
<rect x="301.4" y="115.0" width="13.4" height="1.2" fill="#f4a74e"/>
<rect x="314.5" y="115.0" width="4.9" height="1.2" fill="#f4a850"/>
<rect x="319.0" y="115.0" width="7.1" height="1.2" fill="#f08f3c"/>
<rect x="325.9" y="115.0" width="1.4" height="1.2" fill="#f0913f"/>
<rect x="229.2" y="116.0" width="12.9" height="1.2" fill="#f5b25a"/>
<rect x="241.8" y="116.0" width="9.0" height="1.2" fill="#f5ac54"/>
<rect x="250.5" y="116.0" width="6.5" height="1.2" fill="#f5aa52"/>
<rect x="256.7" y="116.0" width="7.0" height="1.2" fill="#ea7028"/>
<rect x="263.4" y="116.0" width="5.7" height="1.2" fill="#f2963a"/>
<rect x="268.8" y="116.0" width="8.4" height="1.2" fill="#f5aa52"/>
<rect x="277.0" y="116.0" width="9.9" height="1.2" fill="#f5aa52"/>
<rect x="286.5" y="116.0" width="11.7" height="1.2" fill="#f2973b"/>
<rect x="298.0" y="116.0" width="11.8" height="1.2" fill="#f29a3f"/>
<rect x="309.5" y="116.0" width="4.6" height="1.2" fill="#f6b864"/>
<rect x="313.8" y="116.0" width="13.5" height="1.2" fill="#f5ac55"/>
<rect x="229.2" y="117.0" width="15.2" height="1.7" fill="#f3a74c"/>
<rect x="244.1" y="117.0" width="14.7" height="1.7" fill="#f5ab52"/>
<rect x="258.5" y="117.0" width="4.8" height="1.7" fill="#f5aa52"/>
<rect x="263.0" y="117.0" width="11.1" height="1.7" fill="#f4a54b"/>
<rect x="273.8" y="117.0" width="10.9" height="1.7" fill="#f2963a"/>
<rect x="284.4" y="117.0" width="8.1" height="1.7" fill="#f4a54b"/>
<rect x="292.3" y="117.0" width="5.6" height="1.7" fill="#eb762d"/>
<rect x="297.6" y="117.0" width="6.7" height="1.7" fill="#f4a64d"/>
<rect x="304.0" y="117.0" width="11.9" height="1.7" fill="#f29b40"/>
<rect x="315.6" y="117.0" width="4.7" height="1.7" fill="#ed8236"/>
<rect x="320.0" y="117.0" width="7.3" height="1.7" fill="#f08f3c"/>
<rect x="229.2" y="118.5" width="3.8" height="1.2" fill="#f19b46"/>
<rect x="232.7" y="118.5" width="5.1" height="1.2" fill="#f5b158"/>
<rect x="237.5" y="118.5" width="16.3" height="1.2" fill="#f29e43"/>
<rect x="253.5" y="118.5" width="11.1" height="1.2" fill="#f3a044"/>
<rect x="264.3" y="118.5" width="15.2" height="1.2" fill="#f4a54b"/>
<rect x="279.2" y="118.5" width="3.4" height="1.2" fill="#ee802e"/>
<rect x="282.3" y="118.5" width="8.6" height="1.2" fill="#ee802e"/>
<rect x="290.7" y="118.5" width="5.7" height="1.2" fill="#ee8431"/>
<rect x="296.1" y="118.5" width="4.3" height="1.2" fill="#f2993e"/>
<rect x="300.1" y="118.5" width="13.6" height="1.2" fill="#eb7a30"/>
<rect x="313.4" y="118.5" width="9.6" height="1.2" fill="#f6b864"/>
<rect x="322.7" y="118.5" width="4.6" height="1.2" fill="#f6b864"/>
<rect x="229.2" y="119.5" width="11.6" height="1.2" fill="#f3a74c"/>
<rect x="240.5" y="119.5" width="11.8" height="1.2" fill="#f6ba65"/>
<rect x="252.0" y="119.5" width="12.3" height="1.2" fill="#f7ba66"/>
<rect x="264.0" y="119.5" width="16.1" height="1.2" fill="#f3a044"/>
<rect x="279.9" y="119.5" width="7.3" height="1.2" fill="#f2963a"/>
<rect x="286.9" y="119.5" width="7.4" height="1.2" fill="#ea732a"/>
<rect x="293.9" y="119.5" width="14.8" height="1.2" fill="#f6b965"/>
<rect x="308.4" y="119.5" width="8.7" height="1.2" fill="#f4a84f"/>
<rect x="316.8" y="119.5" width="10.5" height="1.2" fill="#f4a950"/>
<rect x="229.2" y="120.5" width="11.7" height="1.2" fill="#f6bb65"/>
<rect x="240.6" y="120.5" width="12.8" height="1.2" fill="#f5ac54"/>
<rect x="253.0" y="120.5" width="15.5" height="1.2" fill="#f7ba66"/>
<rect x="268.3" y="120.5" width="15.0" height="1.2" fill="#f7ba66"/>
<rect x="283.0" y="120.5" width="4.8" height="1.2" fill="#f2963a"/>
<rect x="287.5" y="120.5" width="8.6" height="1.2" fill="#ee8230"/>
<rect x="295.8" y="120.5" width="9.3" height="1.2" fill="#f5ab53"/>
<rect x="304.8" y="120.5" width="5.0" height="1.2" fill="#f29b41"/>
<rect x="309.4" y="120.5" width="10.5" height="1.2" fill="#f3a44a"/>
<rect x="319.6" y="120.5" width="7.7" height="1.2" fill="#f6b864"/>
<rect x="229.2" y="121.5" width="10.7" height="1.2" fill="#f19b46"/>
<rect x="239.6" y="121.5" width="12.9" height="1.2" fill="#f5ad55"/>
<rect x="252.2" y="121.5" width="5.2" height="1.2" fill="#ee802e"/>
<rect x="257.1" y="121.5" width="5.4" height="1.2" fill="#f5aa52"/>
<rect x="262.2" y="121.5" width="15.3" height="1.2" fill="#f2963a"/>
<rect x="277.3" y="121.5" width="8.3" height="1.2" fill="#f4a54b"/>
<rect x="285.3" y="121.5" width="13.8" height="1.2" fill="#f4a54b"/>
<rect x="298.7" y="121.5" width="5.9" height="1.2" fill="#f5ab53"/>
<rect x="304.3" y="121.5" width="14.2" height="1.2" fill="#f29b40"/>
<rect x="318.2" y="121.5" width="9.1" height="1.2" fill="#f6b864"/>
<rect x="229.2" y="122.5" width="4.0" height="1.2" fill="#f4ad52"/>
<rect x="232.9" y="122.5" width="8.3" height="1.2" fill="#f4aa4f"/>
<rect x="240.9" y="122.5" width="11.4" height="1.2" fill="#f4a84e"/>
<rect x="252.0" y="122.5" width="14.9" height="1.2" fill="#f3a044"/>
<rect x="266.6" y="122.5" width="13.5" height="1.2" fill="#f5aa52"/>
<rect x="279.8" y="122.5" width="11.4" height="1.2" fill="#ea7028"/>
<rect x="290.9" y="122.5" width="14.3" height="1.2" fill="#f4a64c"/>
<rect x="304.9" y="122.5" width="9.4" height="1.2" fill="#ec7c32"/>
<rect x="314.0" y="122.5" width="6.1" height="1.2" fill="#f6b864"/>
<rect x="319.9" y="122.5" width="7.4" height="1.2" fill="#f5ac56"/>
<rect x="229.2" y="123.5" width="8.0" height="1.7" fill="#f5b25a"/>
<rect x="236.9" y="123.5" width="6.5" height="1.7" fill="#f3a74b"/>
<rect x="243.1" y="123.5" width="13.9" height="1.7" fill="#f5ab53"/>
<rect x="256.7" y="123.5" width="3.8" height="1.7" fill="#ea7028"/>
<rect x="260.2" y="123.5" width="14.3" height="1.7" fill="#f3a044"/>
<rect x="274.2" y="123.5" width="3.8" height="1.7" fill="#f4a54b"/>
<rect x="277.7" y="123.5" width="7.5" height="1.7" fill="#f7ba66"/>
<rect x="284.9" y="123.5" width="11.1" height="1.7" fill="#ea722a"/>
<rect x="295.7" y="123.5" width="14.3" height="1.7" fill="#f4a64d"/>
<rect x="309.7" y="123.5" width="7.3" height="1.7" fill="#f6b864"/>
<rect x="316.7" y="123.5" width="7.3" height="1.7" fill="#f5ac55"/>
<rect x="323.7" y="123.5" width="3.6" height="1.7" fill="#f3a64d"/>
<rect x="229.2" y="125.0" width="9.1" height="1.2" fill="#f6bb65"/>
<rect x="238.0" y="125.0" width="5.6" height="1.2" fill="#f29e42"/>
<rect x="243.3" y="125.0" width="11.3" height="1.2" fill="#f6ba65"/>
<rect x="254.4" y="125.0" width="9.3" height="1.2" fill="#f7ba66"/>
<rect x="263.4" y="125.0" width="13.2" height="1.2" fill="#f4a54b"/>
<rect x="276.4" y="125.0" width="13.9" height="1.2" fill="#f4a54b"/>
<rect x="290.0" y="125.0" width="5.6" height="1.2" fill="#f6b965"/>
<rect x="295.3" y="125.0" width="8.5" height="1.2" fill="#f2993e"/>
<rect x="303.5" y="125.0" width="5.0" height="1.2" fill="#f6b864"/>
<rect x="308.2" y="125.0" width="8.0" height="1.2" fill="#f4a84f"/>
<rect x="316.0" y="125.0" width="9.0" height="1.2" fill="#ed8236"/>
<rect x="324.7" y="125.0" width="2.6" height="1.2" fill="#f39f46"/>
<rect x="229.2" y="126.0" width="4.4" height="1.2" fill="#f4ad52"/>
<rect x="233.3" y="126.0" width="7.4" height="1.2" fill="#f4aa4e"/>
<rect x="240.3" y="126.0" width="9.9" height="1.2" fill="#f29b40"/>
<rect x="250.0" y="126.0" width="13.1" height="1.2" fill="#f7ba66"/>
<rect x="262.8" y="126.0" width="11.8" height="1.2" fill="#f4a54b"/>
<rect x="274.3" y="126.0" width="5.1" height="1.2" fill="#f4a54b"/>
<rect x="279.0" y="126.0" width="4.2" height="1.2" fill="#ea7028"/>
<rect x="282.9" y="126.0" width="12.8" height="1.2" fill="#f4a54b"/>
<rect x="295.4" y="126.0" width="4.7" height="1.2" fill="#f5ab53"/>
<rect x="299.8" y="126.0" width="16.1" height="1.2" fill="#f6b965"/>
<rect x="315.6" y="126.0" width="7.0" height="1.2" fill="#f4a850"/>
<rect x="322.3" y="126.0" width="5.0" height="1.2" fill="#f5ad56"/>
<rect x="229.2" y="127.0" width="4.2" height="1.2" fill="#f19b46"/>
<rect x="233.1" y="127.0" width="11.2" height="1.2" fill="#f09540"/>
<rect x="244.0" y="127.0" width="5.4" height="1.2" fill="#ea742b"/>
<rect x="249.1" y="127.0" width="6.9" height="1.2" fill="#f4a54b"/>
<rect x="255.6" y="127.0" width="9.2" height="1.2" fill="#ee802e"/>
<rect x="264.6" y="127.0" width="9.8" height="1.2" fill="#f7ba66"/>
<rect x="274.1" y="127.0" width="6.0" height="1.2" fill="#ee802e"/>
<rect x="279.8" y="127.0" width="11.3" height="1.2" fill="#f5aa52"/>
<rect x="290.8" y="127.0" width="7.4" height="1.2" fill="#f2983d"/>
<rect x="298.0" y="127.0" width="5.9" height="1.2" fill="#f6b965"/>
<rect x="303.5" y="127.0" width="5.4" height="1.2" fill="#ef8936"/>
<rect x="308.6" y="127.0" width="12.1" height="1.2" fill="#f6b864"/>
<rect x="320.5" y="127.0" width="5.5" height="1.2" fill="#f4a951"/>
<rect x="325.7" y="127.0" width="1.6" height="1.2" fill="#f4aa52"/>
<rect x="229.2" y="128.0" width="11.6" height="1.2" fill="#f19b46"/>
<rect x="240.5" y="128.0" width="15.9" height="1.2" fill="#f6ba65"/>
<rect x="256.0" y="128.0" width="10.5" height="1.2" fill="#ea7028"/>
<rect x="266.2" y="128.0" width="12.3" height="1.2" fill="#f2963a"/>
<rect x="278.2" y="128.0" width="6.6" height="1.2" fill="#ea7028"/>
<rect x="284.5" y="128.0" width="11.5" height="1.2" fill="#f6b965"/>
<rect x="295.7" y="128.0" width="12.9" height="1.2" fill="#ee8633"/>
<rect x="308.3" y="128.0" width="6.7" height="1.2" fill="#ef8a38"/>
<rect x="314.7" y="128.0" width="10.8" height="1.2" fill="#f08d3a"/>
<rect x="325.2" y="128.0" width="2.1" height="1.2" fill="#f3a046"/>
<rect x="229.2" y="129.0" width="6.3" height="1.7" fill="#ef9242"/>
<rect x="235.2" y="129.0" width="13.0" height="1.7" fill="#f3a146"/>
<rect x="247.9" y="129.0" width="7.2" height="1.7" fill="#ea7028"/>
<rect x="254.7" y="129.0" width="6.6" height="1.7" fill="#f3a044"/>
<rect x="261.0" y="129.0" width="15.9" height="1.7" fill="#f4a54b"/>
<rect x="276.6" y="129.0" width="10.9" height="1.7" fill="#f3a044"/>
<rect x="287.2" y="129.0" width="14.9" height="1.7" fill="#f3a145"/>
<rect x="301.8" y="129.0" width="3.3" height="1.7" fill="#f29a40"/>
<rect x="304.8" y="129.0" width="6.2" height="1.7" fill="#ef8937"/>
<rect x="310.7" y="129.0" width="11.3" height="1.7" fill="#f6b864"/>
<rect x="321.7" y="129.0" width="5.6" height="1.7" fill="#f0903d"/>
<rect x="229.2" y="130.5" width="5.0" height="1.2" fill="#f5b25a"/>
<rect x="233.9" y="130.5" width="11.3" height="1.2" fill="#f3a247"/>
<rect x="244.9" y="130.5" width="3.6" height="1.2" fill="#f2973b"/>
<rect x="248.2" y="130.5" width="10.7" height="1.2" fill="#ee802e"/>
<rect x="258.5" y="130.5" width="4.7" height="1.2" fill="#ee802e"/>
<rect x="262.9" y="130.5" width="10.2" height="1.2" fill="#f7ba66"/>
<rect x="272.9" y="130.5" width="10.9" height="1.2" fill="#ea7028"/>
<rect x="283.5" y="130.5" width="5.0" height="1.2" fill="#ee812f"/>
<rect x="288.2" y="130.5" width="11.4" height="1.2" fill="#f6b965"/>
<rect x="299.3" y="130.5" width="5.4" height="1.2" fill="#f29a3f"/>
<rect x="304.4" y="130.5" width="15.5" height="1.2" fill="#f5ab54"/>
<rect x="319.5" y="130.5" width="7.8" height="1.2" fill="#f6b864"/>
<rect x="229.2" y="131.5" width="4.1" height="1.2" fill="#f5b25a"/>
<rect x="233.0" y="131.5" width="14.6" height="1.2" fill="#f4ad53"/>
<rect x="247.4" y="131.5" width="6.8" height="1.2" fill="#f4a54b"/>
<rect x="253.9" y="131.5" width="6.7" height="1.2" fill="#f2963a"/>
<rect x="260.3" y="131.5" width="4.0" height="1.2" fill="#f4a54b"/>
<rect x="264.0" y="131.5" width="10.6" height="1.2" fill="#ee802e"/>
<rect x="274.3" y="131.5" width="11.0" height="1.2" fill="#ea7028"/>
<rect x="285.1" y="131.5" width="9.1" height="1.2" fill="#ea722a"/>
<rect x="293.8" y="131.5" width="12.8" height="1.2" fill="#f5ab53"/>
<rect x="306.4" y="131.5" width="5.4" height="1.2" fill="#f29b41"/>
<rect x="311.5" y="131.5" width="3.9" height="1.2" fill="#ec7f35"/>
<rect x="315.1" y="131.5" width="3.6" height="1.2" fill="#f5ac55"/>
<rect x="318.4" y="131.5" width="6.4" height="1.2" fill="#f39e44"/>
<rect x="324.5" y="131.5" width="2.8" height="1.2" fill="#f39f46"/>
<rect x="229.2" y="132.5" width="11.3" height="1.2" fill="#f4ad52"/>
<rect x="240.2" y="132.5" width="15.5" height="1.2" fill="#f5ad54"/>
<rect x="255.4" y="132.5" width="8.7" height="1.2" fill="#ea7028"/>
<rect x="263.8" y="132.5" width="11.2" height="1.2" fill="#ea7028"/>
<rect x="274.7" y="132.5" width="11.7" height="1.2" fill="#f7ba66"/>
<rect x="286.1" y="132.5" width="13.9" height="1.2" fill="#f5aa52"/>
<rect x="299.7" y="132.5" width="9.9" height="1.2" fill="#f29a3f"/>
<rect x="309.3" y="132.5" width="7.2" height="1.2" fill="#f29c42"/>
<rect x="316.2" y="132.5" width="11.1" height="1.2" fill="#f3a54b"/>
<rect x="229.2" y="133.5" width="12.6" height="1.7" fill="#f3a74c"/>
<rect x="241.5" y="133.5" width="8.2" height="1.7" fill="#f6ba65"/>
<rect x="249.4" y="133.5" width="13.0" height="1.7" fill="#f7ba66"/>
<rect x="262.1" y="133.5" width="4.3" height="1.7" fill="#f3a044"/>
<rect x="266.1" y="133.5" width="9.2" height="1.7" fill="#f5aa52"/>
<rect x="275.0" y="133.5" width="16.3" height="1.7" fill="#ee802e"/>
<rect x="290.9" y="133.5" width="6.3" height="1.7" fill="#f2983d"/>
<rect x="297.0" y="133.5" width="4.9" height="1.7" fill="#f3a247"/>
<rect x="301.6" y="133.5" width="15.3" height="1.7" fill="#f4a74e"/>
<rect x="316.6" y="133.5" width="6.7" height="1.7" fill="#f39e44"/>
<rect x="323.0" y="133.5" width="4.3" height="1.7" fill="#ed8539"/>
<rect x="229.2" y="135.0" width="12.2" height="1.7" fill="#ef9242"/>
<rect x="241.1" y="135.0" width="15.9" height="1.7" fill="#ef8834"/>
<rect x="256.7" y="135.0" width="11.6" height="1.7" fill="#f5aa52"/>
<rect x="268.1" y="135.0" width="4.4" height="1.7" fill="#ea7028"/>
<rect x="272.2" y="135.0" width="3.5" height="1.7" fill="#ee802e"/>
<rect x="275.4" y="135.0" width="15.1" height="1.7" fill="#f4a54b"/>
<rect x="290.2" y="135.0" width="13.0" height="1.7" fill="#f5aa53"/>
<rect x="302.8" y="135.0" width="13.0" height="1.7" fill="#ef8836"/>
<rect x="315.5" y="135.0" width="5.8" height="1.7" fill="#f6b864"/>
<rect x="321.0" y="135.0" width="6.3" height="1.7" fill="#f5ad56"/>
<rect x="229.2" y="136.5" width="15.1" height="1.7" fill="#f4ad52"/>
<rect x="244.0" y="136.5" width="15.3" height="1.7" fill="#f3a145"/>
<rect x="259.0" y="136.5" width="14.2" height="1.7" fill="#ea7028"/>
<rect x="272.9" y="136.5" width="9.4" height="1.7" fill="#f4a54b"/>
<rect x="282.0" y="136.5" width="10.2" height="1.7" fill="#f2963a"/>
<rect x="291.9" y="136.5" width="14.4" height="1.7" fill="#f6b965"/>
<rect x="306.1" y="136.5" width="15.7" height="1.7" fill="#f5ab54"/>
<rect x="321.5" y="136.5" width="5.8" height="1.7" fill="#f0903d"/>
<rect x="229.2" y="138.0" width="8.4" height="1.2" fill="#ef9242"/>
<rect x="237.3" y="138.0" width="4.3" height="1.2" fill="#f5ae56"/>
<rect x="241.3" y="138.0" width="5.2" height="1.2" fill="#f29a3f"/>
<rect x="246.2" y="138.0" width="4.8" height="1.2" fill="#ea7028"/>
<rect x="250.6" y="138.0" width="15.4" height="1.2" fill="#ee802e"/>
<rect x="265.7" y="138.0" width="16.0" height="1.2" fill="#f3a044"/>
<rect x="281.4" y="138.0" width="3.7" height="1.2" fill="#f2963a"/>
<rect x="284.8" y="138.0" width="5.1" height="1.2" fill="#f3a044"/>
<rect x="289.6" y="138.0" width="11.5" height="1.2" fill="#f3a145"/>
<rect x="300.8" y="138.0" width="4.2" height="1.2" fill="#f29a3f"/>
<rect x="304.7" y="138.0" width="4.2" height="1.2" fill="#ec7c32"/>
<rect x="308.6" y="138.0" width="13.2" height="1.2" fill="#f5ac54"/>
<rect x="321.5" y="138.0" width="5.8" height="1.2" fill="#f4a951"/>
<rect x="229.2" y="139.0" width="14.7" height="1.2" fill="#f4b056"/>
<rect x="243.6" y="139.0" width="15.2" height="1.2" fill="#f6ba65"/>
<rect x="258.5" y="139.0" width="4.7" height="1.2" fill="#f5aa52"/>
<rect x="262.9" y="139.0" width="5.9" height="1.2" fill="#f2963a"/>
<rect x="268.6" y="139.0" width="3.7" height="1.2" fill="#f4a54b"/>
<rect x="272.0" y="139.0" width="15.1" height="1.2" fill="#f4a54b"/>
<rect x="286.8" y="139.0" width="11.5" height="1.2" fill="#f4a54c"/>
<rect x="298.1" y="139.0" width="13.1" height="1.2" fill="#f3a247"/>
<rect x="310.9" y="139.0" width="7.0" height="1.2" fill="#f29c42"/>
<rect x="317.6" y="139.0" width="5.0" height="1.2" fill="#f4a950"/>
<rect x="322.3" y="139.0" width="5.0" height="1.2" fill="#f5ad56"/>
<rect x="229.2" y="140.0" width="7.4" height="1.2" fill="#f6bb65"/>
<rect x="236.3" y="140.0" width="6.7" height="1.2" fill="#f08f3b"/>
<rect x="242.7" y="140.0" width="6.6" height="1.2" fill="#ee8532"/>
<rect x="249.1" y="140.0" width="3.9" height="1.2" fill="#f4a54b"/>
<rect x="252.7" y="140.0" width="8.1" height="1.2" fill="#ee802e"/>
<rect x="260.5" y="140.0" width="13.3" height="1.2" fill="#ea7028"/>
<rect x="273.5" y="140.0" width="9.8" height="1.2" fill="#f4a54b"/>
<rect x="283.0" y="140.0" width="7.0" height="1.2" fill="#f3a044"/>
<rect x="289.8" y="140.0" width="3.7" height="1.2" fill="#f6b965"/>
<rect x="293.2" y="140.0" width="3.7" height="1.2" fill="#eb762d"/>
<rect x="296.6" y="140.0" width="13.3" height="1.2" fill="#ee8634"/>
<rect x="309.6" y="140.0" width="9.4" height="1.2" fill="#f29c42"/>
<rect x="318.7" y="140.0" width="8.6" height="1.2" fill="#f5ac56"/>
<rect x="229.2" y="141.0" width="10.8" height="1.2" fill="#f19b46"/>
<rect x="239.7" y="141.0" width="5.5" height="1.2" fill="#f29c41"/>
<rect x="244.9" y="141.0" width="10.1" height="1.2" fill="#ee812f"/>
<rect x="254.7" y="141.0" width="13.2" height="1.2" fill="#f2963a"/>
<rect x="267.6" y="141.0" width="3.4" height="1.2" fill="#f7ba66"/>
<rect x="270.7" y="141.0" width="4.5" height="1.2" fill="#f3a044"/>
<rect x="274.9" y="141.0" width="13.7" height="1.2" fill="#f5aa52"/>
<rect x="288.3" y="141.0" width="15.9" height="1.2" fill="#ea742b"/>
<rect x="303.8" y="141.0" width="7.8" height="1.2" fill="#f4a74e"/>
<rect x="311.3" y="141.0" width="10.0" height="1.2" fill="#ec7f35"/>
<rect x="321.0" y="141.0" width="6.3" height="1.2" fill="#f08f3d"/>
<rect x="229.2" y="142.0" width="15.5" height="1.2" fill="#f5b25a"/>
<rect x="244.4" y="142.0" width="9.8" height="1.2" fill="#f2973b"/>
<rect x="253.9" y="142.0" width="15.5" height="1.2" fill="#f4a54b"/>
<rect x="269.1" y="142.0" width="4.4" height="1.2" fill="#f4a54b"/>
<rect x="273.1" y="142.0" width="16.2" height="1.2" fill="#ea7028"/>
<rect x="289.0" y="142.0" width="13.5" height="1.2" fill="#f3a145"/>
<rect x="302.2" y="142.0" width="7.5" height="1.2" fill="#f29a40"/>
<rect x="309.5" y="142.0" width="8.5" height="1.2" fill="#f6b864"/>
<rect x="317.7" y="142.0" width="9.6" height="1.2" fill="#f3a54b"/>
<rect x="229.2" y="143.0" width="8.8" height="1.2" fill="#f4ad52"/>
<rect x="237.7" y="143.0" width="3.6" height="1.2" fill="#f5ae55"/>
<rect x="241.0" y="143.0" width="7.2" height="1.2" fill="#f6ba65"/>
<rect x="248.0" y="143.0" width="15.0" height="1.2" fill="#ea7028"/>
<rect x="262.7" y="143.0" width="5.5" height="1.2" fill="#f3a044"/>
<rect x="267.9" y="143.0" width="6.3" height="1.2" fill="#f7ba66"/>
<rect x="273.9" y="143.0" width="4.9" height="1.2" fill="#ea7028"/>
<rect x="278.6" y="143.0" width="13.1" height="1.2" fill="#f4a54b"/>
<rect x="291.4" y="143.0" width="11.2" height="1.2" fill="#f2983d"/>
<rect x="302.3" y="143.0" width="7.8" height="1.2" fill="#ef8836"/>
<rect x="309.8" y="143.0" width="10.1" height="1.2" fill="#f4a84f"/>
<rect x="319.6" y="143.0" width="7.7" height="1.2" fill="#f3a54c"/>
<rect x="229.2" y="144.0" width="5.5" height="1.2" fill="#f6bb65"/>
<rect x="234.4" y="144.0" width="12.3" height="1.2" fill="#f0933e"/>
<rect x="246.4" y="144.0" width="10.8" height="1.2" fill="#f5aa52"/>
<rect x="256.9" y="144.0" width="7.6" height="1.2" fill="#f3a044"/>
<rect x="264.2" y="144.0" width="14.8" height="1.2" fill="#f5aa52"/>
<rect x="278.7" y="144.0" width="9.9" height="1.2" fill="#ee802e"/>
<rect x="288.3" y="144.0" width="7.2" height="1.2" fill="#f3a145"/>
<rect x="295.3" y="144.0" width="14.0" height="1.2" fill="#eb772e"/>
<rect x="309.0" y="144.0" width="5.3" height="1.2" fill="#f5ac55"/>
<rect x="314.0" y="144.0" width="13.3" height="1.2" fill="#f3a54b"/>
<rect x="229.2" y="145.0" width="11.1" height="1.2" fill="#f19b46"/>
<rect x="240.0" y="145.0" width="5.4" height="1.2" fill="#ef8936"/>
<rect x="245.1" y="145.0" width="15.7" height="1.2" fill="#ee812f"/>
<rect x="260.6" y="145.0" width="16.0" height="1.2" fill="#f3a044"/>
<rect x="276.2" y="145.0" width="16.2" height="1.2" fill="#f5aa52"/>
<rect x="292.2" y="145.0" width="15.8" height="1.2" fill="#f2983d"/>
<rect x="307.7" y="145.0" width="5.8" height="1.2" fill="#f5ac54"/>
<rect x="313.2" y="145.0" width="14.1" height="1.2" fill="#f4a850"/>
<rect x="229.2" y="146.0" width="12.8" height="1.2" fill="#f6bb65"/>
<rect x="241.7" y="146.0" width="6.9" height="1.2" fill="#f29a3e"/>
<rect x="248.3" y="146.0" width="11.6" height="1.2" fill="#f2963a"/>
<rect x="259.6" y="146.0" width="7.0" height="1.2" fill="#f7ba66"/>
<rect x="266.2" y="146.0" width="9.3" height="1.2" fill="#f2963a"/>
<rect x="275.3" y="146.0" width="8.5" height="1.2" fill="#f4a54b"/>
<rect x="283.5" y="146.0" width="9.0" height="1.2" fill="#f5aa52"/>
<rect x="292.1" y="146.0" width="9.8" height="1.2" fill="#f3a146"/>
<rect x="301.6" y="146.0" width="7.2" height="1.2" fill="#f29a40"/>
<rect x="308.5" y="146.0" width="5.1" height="1.2" fill="#ec7e33"/>
<rect x="313.3" y="146.0" width="12.9" height="1.2" fill="#f29d43"/>
<rect x="325.9" y="146.0" width="1.4" height="1.2" fill="#f4aa52"/>
<rect x="229.2" y="147.0" width="12.4" height="1.7" fill="#ef9242"/>
<rect x="241.3" y="147.0" width="13.0" height="1.7" fill="#f6ba65"/>
<rect x="254.1" y="147.0" width="14.3" height="1.7" fill="#f3a044"/>
<rect x="268.1" y="147.0" width="12.7" height="1.7" fill="#f4a54b"/>
<rect x="280.4" y="147.0" width="11.6" height="1.7" fill="#ea7028"/>
<rect x="291.8" y="147.0" width="14.4" height="1.7" fill="#f3a146"/>
<rect x="305.9" y="147.0" width="5.7" height="1.7" fill="#f29b41"/>
<rect x="311.2" y="147.0" width="9.2" height="1.7" fill="#ef8c39"/>
<rect x="320.1" y="147.0" width="6.7" height="1.7" fill="#f3a54c"/>
<rect x="326.5" y="147.0" width="0.8" height="1.7" fill="#f6b763"/>
<rect x="223.2" y="85.5" width="1.8" height="1.5" fill="#f5c873"/>
<rect x="225.0" y="85.5" width="1.5" height="1.5" fill="#f4ba60"/>
<rect x="226.5" y="85.5" width="2.0" height="1.5" fill="#f6d282"/>
<rect x="228.5" y="85.5" width="0.7" height="1.5" fill="#f4ba60"/>
<rect x="223.2" y="87.0" width="2.3" height="2.0" fill="#f5c873"/>
<rect x="225.5" y="87.0" width="2.8" height="2.0" fill="#f8dea0"/>
<rect x="228.3" y="87.0" width="0.9" height="2.0" fill="#f4ba60"/>
<rect x="223.2" y="89.0" width="2.8" height="2.7" fill="#f6d282"/>
<rect x="226.0" y="89.0" width="1.1" height="2.7" fill="#f5c873"/>
<rect x="227.1" y="89.0" width="1.3" height="2.7" fill="#f5c873"/>
<rect x="228.4" y="89.0" width="0.8" height="2.7" fill="#f6d282"/>
<rect x="223.2" y="91.7" width="1.9" height="2.7" fill="#f5c873"/>
<rect x="225.1" y="91.7" width="2.4" height="2.7" fill="#f6d282"/>
<rect x="227.5" y="91.7" width="1.7" height="2.7" fill="#f8dea0"/>
<rect x="223.2" y="94.4" width="1.8" height="2.0" fill="#f4ba60"/>
<rect x="225.0" y="94.4" width="1.4" height="2.0" fill="#f5c873"/>
<rect x="226.4" y="94.4" width="1.8" height="2.0" fill="#f6d282"/>
<rect x="228.2" y="94.4" width="1.0" height="2.0" fill="#f8dea0"/>
<rect x="223.2" y="96.4" width="1.5" height="2.3" fill="#f4ba60"/>
<rect x="224.7" y="96.4" width="1.8" height="2.3" fill="#f6d282"/>
<rect x="226.5" y="96.4" width="1.2" height="2.3" fill="#f4ba60"/>
<rect x="227.7" y="96.4" width="1.5" height="2.3" fill="#f8dea0"/>
<rect x="223.2" y="98.7" width="1.2" height="2.2" fill="#f8dea0"/>
<rect x="224.4" y="98.7" width="2.5" height="2.2" fill="#f5c873"/>
<rect x="226.9" y="98.7" width="2.3" height="2.2" fill="#f4ba60"/>
<rect x="223.2" y="100.9" width="1.3" height="1.9" fill="#f6d282"/>
<rect x="224.5" y="100.9" width="2.6" height="1.9" fill="#f5c873"/>
<rect x="227.1" y="100.9" width="1.9" height="1.9" fill="#f5c873"/>
<rect x="229.1" y="100.9" width="0.1" height="1.9" fill="#f5c873"/>
<rect x="223.2" y="102.8" width="2.3" height="1.7" fill="#f4ba60"/>
<rect x="225.5" y="102.8" width="1.9" height="1.7" fill="#f8dea0"/>
<rect x="227.4" y="102.8" width="1.8" height="1.7" fill="#f5c873"/>
<rect x="223.2" y="104.5" width="1.9" height="2.6" fill="#f5c873"/>
<rect x="225.1" y="104.5" width="1.5" height="2.6" fill="#f4ba60"/>
<rect x="226.7" y="104.5" width="2.4" height="2.6" fill="#f4ba60"/>
<rect x="229.0" y="104.5" width="0.2" height="2.6" fill="#f4ba60"/>
<rect x="223.2" y="107.0" width="2.4" height="1.0" fill="#f8dea0"/>
<rect x="225.6" y="107.0" width="1.7" height="1.0" fill="#f8dea0"/>
<rect x="227.4" y="107.0" width="1.6" height="1.0" fill="#f4ba60"/>
<rect x="229.0" y="107.0" width="0.2" height="1.0" fill="#f6d282"/>
<rect x="223.2" y="108.1" width="1.7" height="2.3" fill="#f8dea0"/>
<rect x="224.9" y="108.1" width="2.7" height="2.3" fill="#f6d282"/>
<rect x="227.6" y="108.1" width="1.2" height="2.3" fill="#f8dea0"/>
<rect x="228.8" y="108.1" width="0.4" height="2.3" fill="#f5c873"/>
<rect x="223.2" y="110.4" width="1.7" height="2.1" fill="#f6d282"/>
<rect x="224.9" y="110.4" width="2.3" height="2.1" fill="#f5c873"/>
<rect x="227.2" y="110.4" width="2.0" height="2.1" fill="#f8dea0"/>
<rect x="223.2" y="112.4" width="1.2" height="1.5" fill="#f5c873"/>
<rect x="224.4" y="112.4" width="2.7" height="1.5" fill="#f5c873"/>
<rect x="227.1" y="112.4" width="2.1" height="1.5" fill="#f8dea0"/>
<rect x="223.2" y="113.9" width="1.4" height="2.6" fill="#f4ba60"/>
<rect x="224.6" y="113.9" width="2.6" height="2.6" fill="#f5c873"/>
<rect x="227.2" y="113.9" width="2.0" height="2.6" fill="#f6d282"/>
<rect x="223.2" y="116.5" width="2.8" height="2.3" fill="#f8dea0"/>
<rect x="226.0" y="116.5" width="1.4" height="2.3" fill="#f5c873"/>
<rect x="227.4" y="116.5" width="1.8" height="2.3" fill="#f4ba60"/>
<rect x="223.2" y="118.8" width="1.2" height="2.3" fill="#f6d282"/>
<rect x="224.4" y="118.8" width="1.5" height="2.3" fill="#f5c873"/>
<rect x="226.0" y="118.8" width="2.7" height="2.3" fill="#f4ba60"/>
<rect x="228.6" y="118.8" width="0.6" height="2.3" fill="#f6d282"/>
<rect x="223.2" y="121.2" width="2.8" height="2.0" fill="#f4ba60"/>
<rect x="226.0" y="121.2" width="1.5" height="2.0" fill="#f5c873"/>
<rect x="227.5" y="121.2" width="1.7" height="2.0" fill="#f6d282"/>
<rect x="223.2" y="123.2" width="1.6" height="1.3" fill="#f4ba60"/>
<rect x="224.8" y="123.2" width="2.3" height="1.3" fill="#f4ba60"/>
<rect x="227.2" y="123.2" width="1.7" height="1.3" fill="#f4ba60"/>
<rect x="228.9" y="123.2" width="0.3" height="1.3" fill="#f6d282"/>
<rect x="223.2" y="124.5" width="1.7" height="1.4" fill="#f6d282"/>
<rect x="224.9" y="124.5" width="1.0" height="1.4" fill="#f6d282"/>
<rect x="226.0" y="124.5" width="2.4" height="1.4" fill="#f8dea0"/>
<rect x="228.3" y="124.5" width="0.9" height="1.4" fill="#f6d282"/>
<rect x="223.2" y="125.8" width="2.0" height="2.0" fill="#f5c873"/>
<rect x="225.2" y="125.8" width="1.1" height="2.0" fill="#f4ba60"/>
<rect x="226.2" y="125.8" width="2.3" height="2.0" fill="#f8dea0"/>
<rect x="228.5" y="125.8" width="0.7" height="2.0" fill="#f8dea0"/>
<rect x="223.2" y="127.9" width="2.6" height="1.7" fill="#f5c873"/>
<rect x="225.8" y="127.9" width="1.6" height="1.7" fill="#f8dea0"/>
<rect x="227.3" y="127.9" width="1.8" height="1.7" fill="#f6d282"/>
<rect x="229.2" y="127.9" width="0.0" height="1.7" fill="#f8dea0"/>
<rect x="223.2" y="129.5" width="2.0" height="1.7" fill="#f8dea0"/>
<rect x="225.2" y="129.5" width="2.0" height="1.7" fill="#f8dea0"/>
<rect x="227.2" y="129.5" width="2.0" height="1.7" fill="#f8dea0"/>
<rect x="223.2" y="131.2" width="2.3" height="2.9" fill="#f6d282"/>
<rect x="225.5" y="131.2" width="1.7" height="2.9" fill="#f8dea0"/>
<rect x="227.2" y="131.2" width="2.0" height="2.9" fill="#f5c873"/>
<rect x="223.2" y="134.2" width="2.3" height="2.2" fill="#f6d282"/>
<rect x="225.5" y="134.2" width="1.8" height="2.2" fill="#f4ba60"/>
<rect x="227.3" y="134.2" width="1.9" height="2.2" fill="#f6d282"/>
<rect x="223.2" y="136.4" width="1.2" height="1.8" fill="#f6d282"/>
<rect x="224.4" y="136.4" width="1.4" height="1.8" fill="#f4ba60"/>
<rect x="225.8" y="136.4" width="2.2" height="1.8" fill="#f6d282"/>
<rect x="228.0" y="136.4" width="1.2" height="1.8" fill="#f4ba60"/>
<rect x="223.2" y="138.2" width="2.3" height="2.2" fill="#f6d282"/>
<rect x="225.5" y="138.2" width="1.4" height="2.2" fill="#f4ba60"/>
<rect x="226.9" y="138.2" width="2.3" height="2.2" fill="#f5c873"/>
<rect x="229.1" y="138.2" width="0.1" height="2.2" fill="#f5c873"/>
<rect x="223.2" y="140.4" width="1.8" height="2.7" fill="#f6d282"/>
<rect x="225.0" y="140.4" width="2.8" height="2.7" fill="#f6d282"/>
<rect x="227.9" y="140.4" width="1.3" height="2.7" fill="#f5c873"/>
<rect x="223.2" y="143.1" width="2.1" height="2.6" fill="#f8dea0"/>
<rect x="225.3" y="143.1" width="2.7" height="2.6" fill="#f5c873"/>
<rect x="228.0" y="143.1" width="1.2" height="2.6" fill="#f8dea0"/>
<rect x="223.2" y="145.7" width="2.1" height="1.0" fill="#f6d282"/>
<rect x="225.3" y="145.7" width="2.0" height="1.0" fill="#f6d282"/>
<rect x="227.3" y="145.7" width="1.9" height="1.0" fill="#f4ba60"/>
<rect x="223.2" y="146.8" width="2.8" height="2.2" fill="#f4ba60"/>
<rect x="226.0" y="146.8" width="1.1" height="2.2" fill="#f4ba60"/>
<rect x="227.2" y="146.8" width="2.0" height="2.2" fill="#f5c873"/>
<rect x="327.0" y="85.5" width="3.8" height="1.9" fill="#f4b058"/>
<rect x="330.6" y="85.5" width="2.5" height="1.9" fill="#f7c678"/>
<rect x="333.0" y="85.5" width="3.0" height="1.9" fill="#f6be6a"/>
<rect x="335.8" y="85.5" width="4.7" height="1.9" fill="#f7c678"/>
<rect x="340.3" y="85.5" width="1.4" height="1.9" fill="#f4b058"/>
<rect x="327.0" y="87.2" width="5.6" height="2.7" fill="#f6be6a"/>
<rect x="332.4" y="87.2" width="5.7" height="2.7" fill="#f6be6a"/>
<rect x="337.9" y="87.2" width="3.8" height="2.7" fill="#f2a44a"/>
<rect x="327.0" y="89.7" width="3.2" height="2.3" fill="#f6be6a"/>
<rect x="330.0" y="89.7" width="5.9" height="2.3" fill="#f2a44a"/>
<rect x="335.7" y="89.7" width="5.3" height="2.3" fill="#f6be6a"/>
<rect x="340.8" y="89.7" width="0.9" height="2.3" fill="#f4b058"/>
<rect x="327.0" y="91.8" width="4.4" height="1.6" fill="#f7c678"/>
<rect x="331.2" y="91.8" width="4.0" height="1.6" fill="#f2a44a"/>
<rect x="335.1" y="91.8" width="5.9" height="1.6" fill="#f4b058"/>
<rect x="340.7" y="91.8" width="1.0" height="1.6" fill="#f4b058"/>
<rect x="327.0" y="93.2" width="5.7" height="1.3" fill="#f4b058"/>
<rect x="332.5" y="93.2" width="3.8" height="1.3" fill="#f2a44a"/>
<rect x="336.1" y="93.2" width="5.1" height="1.3" fill="#f6be6a"/>
<rect x="341.0" y="93.2" width="0.7" height="1.3" fill="#f7c678"/>
<rect x="327.0" y="94.3" width="3.5" height="2.1" fill="#f7c678"/>
<rect x="330.3" y="94.3" width="4.1" height="2.1" fill="#f6be6a"/>
<rect x="334.1" y="94.3" width="2.8" height="2.1" fill="#f4b058"/>
<rect x="336.7" y="94.3" width="3.7" height="2.1" fill="#f6be6a"/>
<rect x="340.2" y="94.3" width="1.5" height="2.1" fill="#f7c678"/>
<rect x="327.0" y="96.2" width="5.3" height="1.9" fill="#f7c678"/>
<rect x="332.1" y="96.2" width="6.0" height="1.9" fill="#f2a44a"/>
<rect x="337.9" y="96.2" width="3.4" height="1.9" fill="#f4b058"/>
<rect x="341.1" y="96.2" width="0.6" height="1.9" fill="#f2a44a"/>
<rect x="327.0" y="97.9" width="5.1" height="2.5" fill="#f4b058"/>
<rect x="331.9" y="97.9" width="5.5" height="2.5" fill="#f2a44a"/>
<rect x="337.2" y="97.9" width="4.5" height="2.5" fill="#f6be6a"/>
<rect x="327.0" y="100.2" width="4.9" height="1.8" fill="#f6be6a"/>
<rect x="331.7" y="100.2" width="5.4" height="1.8" fill="#f2a44a"/>
<rect x="337.0" y="100.2" width="4.7" height="1.8" fill="#f2a44a"/>
<rect x="327.0" y="101.8" width="3.9" height="1.6" fill="#f4b058"/>
<rect x="330.7" y="101.8" width="3.4" height="1.6" fill="#f6be6a"/>
<rect x="333.8" y="101.8" width="5.4" height="1.6" fill="#f6be6a"/>
<rect x="339.1" y="101.8" width="2.6" height="1.6" fill="#f7c678"/>
<rect x="327.0" y="103.2" width="2.5" height="1.7" fill="#f7c678"/>
<rect x="329.3" y="103.2" width="5.4" height="1.7" fill="#f6be6a"/>
<rect x="334.5" y="103.2" width="5.4" height="1.7" fill="#f6be6a"/>
<rect x="339.7" y="103.2" width="2.0" height="1.7" fill="#f4b058"/>
<rect x="327.0" y="104.7" width="4.1" height="2.2" fill="#f6be6a"/>
<rect x="330.9" y="104.7" width="5.9" height="2.2" fill="#f4b058"/>
<rect x="336.6" y="104.7" width="5.1" height="2.2" fill="#f7c678"/>
<rect x="327.0" y="106.7" width="4.3" height="2.0" fill="#f2a44a"/>
<rect x="331.1" y="106.7" width="5.3" height="2.0" fill="#f6be6a"/>
<rect x="336.2" y="106.7" width="3.8" height="2.0" fill="#f2a44a"/>
<rect x="339.8" y="106.7" width="1.9" height="2.0" fill="#f2a44a"/>
<rect x="327.0" y="108.5" width="4.6" height="1.9" fill="#f6be6a"/>
<rect x="331.4" y="108.5" width="3.1" height="1.9" fill="#f4b058"/>
<rect x="334.2" y="108.5" width="2.9" height="1.9" fill="#f2a44a"/>
<rect x="336.9" y="108.5" width="3.7" height="1.9" fill="#f2a44a"/>
<rect x="340.4" y="108.5" width="1.3" height="1.9" fill="#f6be6a"/>
<rect x="327.0" y="110.3" width="5.9" height="1.6" fill="#f7c678"/>
<rect x="332.7" y="110.3" width="3.7" height="1.6" fill="#f4b058"/>
<rect x="336.2" y="110.3" width="3.7" height="1.6" fill="#f7c678"/>
<rect x="339.7" y="110.3" width="2.0" height="1.6" fill="#f6be6a"/>
<rect x="327.0" y="111.6" width="2.3" height="1.7" fill="#f2a44a"/>
<rect x="329.1" y="111.6" width="4.3" height="1.7" fill="#f4b058"/>
<rect x="333.2" y="111.6" width="2.6" height="1.7" fill="#f6be6a"/>
<rect x="335.6" y="111.6" width="6.1" height="1.7" fill="#f7c678"/>
<rect x="327.0" y="113.1" width="3.1" height="2.1" fill="#f2a44a"/>
<rect x="329.9" y="113.1" width="3.9" height="2.1" fill="#f7c678"/>
<rect x="333.6" y="113.1" width="5.3" height="2.1" fill="#f6be6a"/>
<rect x="338.6" y="113.1" width="3.1" height="2.1" fill="#f4b058"/>
<rect x="327.0" y="115.0" width="6.2" height="1.7" fill="#f7c678"/>
<rect x="333.0" y="115.0" width="2.5" height="1.7" fill="#f4b058"/>
<rect x="335.3" y="115.0" width="2.3" height="1.7" fill="#f2a44a"/>
<rect x="337.5" y="115.0" width="4.2" height="1.7" fill="#f7c678"/>
<rect x="327.0" y="116.5" width="5.6" height="1.9" fill="#f4b058"/>
<rect x="332.4" y="116.5" width="5.7" height="1.9" fill="#f7c678"/>
<rect x="337.8" y="116.5" width="3.9" height="1.9" fill="#f4b058"/>
<rect x="327.0" y="118.2" width="4.5" height="1.6" fill="#f4b058"/>
<rect x="331.3" y="118.2" width="6.0" height="1.6" fill="#f7c678"/>
<rect x="337.1" y="118.2" width="2.9" height="1.6" fill="#f6be6a"/>
<rect x="339.8" y="118.2" width="1.9" height="1.6" fill="#f6be6a"/>
<rect x="327.0" y="119.6" width="3.1" height="2.7" fill="#f4b058"/>
<rect x="329.9" y="119.6" width="6.0" height="2.7" fill="#f2a44a"/>
<rect x="335.7" y="119.6" width="2.4" height="2.7" fill="#f4b058"/>
<rect x="337.9" y="119.6" width="3.8" height="2.7" fill="#f4b058"/>
<rect x="327.0" y="122.1" width="4.3" height="1.6" fill="#f7c678"/>
<rect x="331.1" y="122.1" width="2.4" height="1.6" fill="#f6be6a"/>
<rect x="333.3" y="122.1" width="3.5" height="1.6" fill="#f4b058"/>
<rect x="336.5" y="122.1" width="5.2" height="1.6" fill="#f2a44a"/>
<rect x="327.0" y="123.5" width="4.0" height="2.1" fill="#f4b058"/>
<rect x="330.8" y="123.5" width="4.1" height="2.1" fill="#f2a44a"/>
<rect x="334.6" y="123.5" width="3.2" height="2.1" fill="#f4b058"/>
<rect x="337.7" y="123.5" width="3.7" height="2.1" fill="#f7c678"/>
<rect x="341.2" y="123.5" width="0.5" height="2.1" fill="#f6be6a"/>
<rect x="327.0" y="125.4" width="5.9" height="2.4" fill="#f4b058"/>
<rect x="332.7" y="125.4" width="4.1" height="2.4" fill="#f6be6a"/>
<rect x="336.5" y="125.4" width="5.2" height="2.4" fill="#f6be6a"/>
<rect x="327.0" y="127.6" width="3.1" height="2.6" fill="#f2a44a"/>
<rect x="329.9" y="127.6" width="5.8" height="2.6" fill="#f6be6a"/>
<rect x="335.4" y="127.6" width="5.3" height="2.6" fill="#f4b058"/>
<rect x="340.6" y="127.6" width="1.1" height="2.6" fill="#f7c678"/>
<rect x="327.0" y="130.0" width="4.7" height="2.5" fill="#f7c678"/>
<rect x="331.5" y="130.0" width="6.1" height="2.5" fill="#f2a44a"/>
<rect x="337.4" y="130.0" width="4.3" height="2.5" fill="#f7c678"/>
<rect x="327.0" y="132.2" width="3.7" height="1.4" fill="#f2a44a"/>
<rect x="330.5" y="132.2" width="3.1" height="1.4" fill="#f4b058"/>
<rect x="333.4" y="132.2" width="2.9" height="1.4" fill="#f7c678"/>
<rect x="336.1" y="132.2" width="4.4" height="1.4" fill="#f6be6a"/>
<rect x="340.3" y="132.2" width="1.4" height="1.4" fill="#f6be6a"/>
<rect x="327.0" y="133.4" width="3.8" height="1.6" fill="#f6be6a"/>
<rect x="330.6" y="133.4" width="2.3" height="1.6" fill="#f2a44a"/>
<rect x="332.7" y="133.4" width="3.5" height="1.6" fill="#f6be6a"/>
<rect x="336.1" y="133.4" width="3.2" height="1.6" fill="#f4b058"/>
<rect x="339.1" y="133.4" width="2.6" height="1.6" fill="#f7c678"/>
<rect x="327.0" y="134.8" width="6.1" height="1.4" fill="#f4b058"/>
<rect x="332.9" y="134.8" width="4.7" height="1.4" fill="#f6be6a"/>
<rect x="337.4" y="134.8" width="4.3" height="1.4" fill="#f2a44a"/>
<rect x="327.0" y="136.0" width="5.2" height="1.4" fill="#f2a44a"/>
<rect x="332.0" y="136.0" width="3.9" height="1.4" fill="#f2a44a"/>
<rect x="335.7" y="136.0" width="6.0" height="1.4" fill="#f6be6a"/>
<rect x="327.0" y="137.2" width="3.4" height="1.3" fill="#f6be6a"/>
<rect x="330.2" y="137.2" width="2.4" height="1.3" fill="#f2a44a"/>
<rect x="332.4" y="137.2" width="2.8" height="1.3" fill="#f4b058"/>
<rect x="335.0" y="137.2" width="4.0" height="1.3" fill="#f2a44a"/>
<rect x="338.7" y="137.2" width="3.0" height="1.3" fill="#f7c678"/>
<rect x="327.0" y="138.3" width="5.5" height="1.2" fill="#f2a44a"/>
<rect x="332.3" y="138.3" width="2.9" height="1.2" fill="#f7c678"/>
<rect x="335.1" y="138.3" width="2.4" height="1.2" fill="#f7c678"/>
<rect x="337.2" y="138.3" width="3.1" height="1.2" fill="#f6be6a"/>
<rect x="340.1" y="138.3" width="1.6" height="1.2" fill="#f6be6a"/>
<rect x="327.0" y="139.3" width="3.1" height="2.0" fill="#f6be6a"/>
<rect x="329.9" y="139.3" width="3.0" height="2.0" fill="#f4b058"/>
<rect x="332.7" y="139.3" width="5.5" height="2.0" fill="#f7c678"/>
<rect x="338.0" y="139.3" width="3.7" height="2.0" fill="#f6be6a"/>
<rect x="327.0" y="141.1" width="4.6" height="1.5" fill="#f6be6a"/>
<rect x="331.4" y="141.1" width="4.5" height="1.5" fill="#f6be6a"/>
<rect x="335.8" y="141.1" width="2.2" height="1.5" fill="#f7c678"/>
<rect x="337.8" y="141.1" width="3.9" height="1.5" fill="#f4b058"/>
<rect x="327.0" y="142.4" width="3.6" height="2.0" fill="#f2a44a"/>
<rect x="330.4" y="142.4" width="5.6" height="2.0" fill="#f7c678"/>
<rect x="335.8" y="142.4" width="2.6" height="2.0" fill="#f7c678"/>
<rect x="338.1" y="142.4" width="3.6" height="2.0" fill="#f7c678"/>
<rect x="327.0" y="144.2" width="4.9" height="1.4" fill="#f6be6a"/>
<rect x="331.7" y="144.2" width="2.9" height="1.4" fill="#f2a44a"/>
<rect x="334.4" y="144.2" width="2.3" height="1.4" fill="#f2a44a"/>
<rect x="336.6" y="144.2" width="4.5" height="1.4" fill="#f4b058"/>
<rect x="340.9" y="144.2" width="0.8" height="1.4" fill="#f7c678"/>
<rect x="327.0" y="145.4" width="2.5" height="2.7" fill="#f2a44a"/>
<rect x="329.3" y="145.4" width="5.1" height="2.7" fill="#f2a44a"/>
<rect x="334.1" y="145.4" width="5.3" height="2.7" fill="#f7c678"/>
<rect x="339.3" y="145.4" width="2.4" height="2.7" fill="#f4b058"/>
<rect x="327.0" y="147.8" width="2.6" height="1.6" fill="#f7c678"/>
<rect x="329.4" y="147.8" width="4.0" height="1.6" fill="#f4b058"/>
<rect x="333.2" y="147.8" width="4.3" height="1.6" fill="#f6be6a"/>
<rect x="337.3" y="147.8" width="2.3" height="1.6" fill="#f4b058"/>
<rect x="339.4" y="147.8" width="2.3" height="1.6" fill="#f6be6a"/>
<rect x="341" y="85.5" width="1.4" height="63.2" fill="#fbead0"/>
<rect x="223.4" y="120.5" width="3.0" height="3.5" fill="#e0501c"/>
<rect x="223.6" y="92.0" width="2.2" height="2.5" fill="#e86a28"/>
<rect x="224.0" y="104.0" width="2.0" height="2.0" fill="#ec7a30"/>
<rect x="223.5" y="136.0" width="2.5" height="2.0" fill="#ea6a2a"/>
<rect x="343.8" y="105.0" width="1.6" height="2.0" fill="#e88a40"/>
<rect x="343.2" y="128.6" width="1.2" height="1.0" fill="#d87030"/>
<rect x="347.3" y="114.3" width="1.2" height="1.4" fill="#f0a860"/>
<rect x="349.0" y="129.7" width="1.0" height="1.1" fill="#f0a860"/>
<rect x="346.9" y="132.5" width="1.1" height="1.1" fill="#e88a40"/>
<rect x="346.6" y="99.9" width="1.2" height="1.7" fill="#f0a860"/>
<rect x="348.1" y="96.0" width="1.8" height="1.9" fill="#f0a860"/>
<rect x="347.7" y="122.4" width="1.6" height="1.0" fill="#e88a40"/>
<rect x="348.3" y="106.7" width="1.2" height="1.3" fill="#f0a860"/>
<rect x="348.8" y="120.4" width="2.0" height="1.3" fill="#f0a860"/>
<rect x="348.9" y="89.3" width="1.5" height="2.0" fill="#f0a860"/>
<rect x="344.4" y="111.8" width="1.6" height="1.4" fill="#d87030"/>
<rect x="343.9" y="105.8" width="1.2" height="1.7" fill="#e88a40"/>
<rect x="343.5" y="145.2" width="1.8" height="1.9" fill="#d87030"/>
<rect x="342.9" y="145.8" width="2.0" height="1.0" fill="#d87030"/>
<rect x="347.2" y="142.0" width="1.6" height="1.6" fill="#e88a40"/>
<rect x="347.2" y="101.3" width="1.5" height="1.4" fill="#e88a40"/>
<rect x="344.7" y="104.6" width="1.6" height="1.1" fill="#d87030"/>
  <rect x="243" y="91" width="84" height="4" fill="#c8401a" opacity="0.35"/>
  <rect x="242.5" y="85.5" width="84.5" height="7.6" fill="#9a4818" opacity="0.7"/>
  <rect x="243.5" y="86" width="83.5" height="6" fill="#3a120c"/>
  <rect x="257" y="134" width="70" height="9" fill="#d4461a" opacity="0.3"/>
  <rect x="257" y="141.6" width="70" height="2.5" fill="#a03a14" opacity="0.6"/>
  <rect x="257.6" y="143.4" width="69.4" height="4.9" fill="#3a120c"/>
  <rect x="227.3" y="127.3" width="30.1" height="20.5" fill="#fff"/>
  <line x1="229.8" y1="132" x2="255.5" y2="132" stroke="#222" stroke-width="1.2"/>
  <line x1="230.1" y1="129" x2="230.1" y2="134.8" stroke="#222" stroke-width="1.2"/>
  <line x1="255.2" y1="129" x2="255.2" y2="134.8" stroke="#222" stroke-width="1.2"/>
  <text x="228.6" y="144.2" font-size="9.8" fill="#2a2a2a" textLength="28" lengthAdjust="spacingAndGlyphs">1.2 µm</text>
  <text x="232.3" y="105.8" font-size="9.8" fill="#4e2410" textLength="41" lengthAdjust="spacingAndGlyphs">PFM OOP</text>
</g>
<line x1="215" y1="140.6" x2="222.7" y2="147.8" stroke="#333" stroke-width="0.8"/>

<!-- ===== Panel (b) chart ===== -->
<g id="chart">
  <!-- frame -->
  <rect x="55" y="169.4" width="220.5" height="178.3" fill="none" stroke="#b8b2b2" stroke-width="0.8"/>
  <line x1="55" y1="169.4" x2="55" y2="347.7" stroke="#9a9090" stroke-width="1"/>
  <line x1="55" y1="347.7" x2="275.5" y2="347.7" stroke="#9a9090" stroke-width="1"/>
  <!-- zero lines -->
  <line x1="165.6" y1="169.4" x2="165.6" y2="347.7" stroke="#9a9292" stroke-width="0.8"/>
  <line x1="55" y1="258.6" x2="275.5" y2="258.6" stroke="#9a9292" stroke-width="0.8"/>
  <!-- y ticks -->
  <g stroke="#8a8080" stroke-width="0.8">
    <line x1="51" y1="182.2" x2="55" y2="182.2"/>
    <line x1="52.5" y1="195" x2="55" y2="195"/>
    <line x1="51" y1="207.9" x2="55" y2="207.9"/>
    <line x1="52.5" y1="220.7" x2="55" y2="220.7"/>
    <line x1="51" y1="233.6" x2="55" y2="233.6"/>
    <line x1="52.5" y1="246.1" x2="55" y2="246.1"/>
    <line x1="51" y1="258.6" x2="55" y2="258.6"/>
    <line x1="52.5" y1="271.6" x2="55" y2="271.6"/>
    <line x1="51" y1="284.8" x2="55" y2="284.8"/>
    <line x1="52.5" y1="297.7" x2="55" y2="297.7"/>
    <line x1="51" y1="310.6" x2="55" y2="310.6"/>
    <line x1="52.5" y1="323" x2="55" y2="323"/>
    <line x1="51" y1="335.5" x2="55" y2="335.5"/>
    <!-- x ticks -->
    <line x1="55" y1="347.7" x2="55" y2="351.5"/>
    <line x1="82.7" y1="347.7" x2="82.7" y2="350"/>
    <line x1="110" y1="347.7" x2="110" y2="351.5"/>
    <line x1="137.6" y1="347.7" x2="137.6" y2="350"/>
    <line x1="165.6" y1="347.7" x2="165.6" y2="351.5"/>
    <line x1="193.6" y1="347.7" x2="193.6" y2="350"/>
    <line x1="220.5" y1="347.7" x2="220.5" y2="351.5"/>
    <line x1="248" y1="347.7" x2="248" y2="350"/>
    <line x1="275.5" y1="347.7" x2="275.5" y2="351.5"/>
  </g>
  <!-- data lines -->
  <g stroke-linecap="butt">
    <line x1="55" y1="292.3" x2="275.3" y2="229.6" stroke="#a69393" stroke-width="2.8"/>
    <line x1="55" y1="305.4" x2="275.3" y2="216.7" stroke="#1b1111" stroke-width="2.8"/>
    <line x1="55" y1="317.9" x2="275.3" y2="204.3" stroke="#2d4aa0" stroke-width="2.7"/>
    <line x1="55" y1="338" x2="275.3" y2="183.8" stroke="#e3262b" stroke-width="3.2"/>
    <line x1="55" y1="320.7" x2="275.3" y2="201.4" stroke="#1a9148" stroke-width="2.9"/>
  </g>
  <!-- tick labels -->
  <g font-size="10" fill="#555" text-anchor="end">
    <text x="48" y="185.6">1.5</text>
    <text x="48" y="211.3">1.0</text>
    <text x="48" y="237">0.5</text>
    <text x="48" y="262">0</text>
    <text x="48" y="288.2">−0.5</text>
    <text x="48" y="314">−1.0</text>
    <text x="48" y="339">−1.5</text>
  </g>
  <g font-size="10" fill="#555" text-anchor="middle">
    <text x="52.4" y="361.2">−10</text>
    <text x="107.5" y="361.2">−5</text>
    <text x="165.6" y="361.2">0</text>
    <text x="220.5" y="361.2">5</text>
    <text x="275.5" y="361.2">10</text>
    <text x="165.2" y="374.4">Bias (V)</text>
  </g>
  <text transform="translate(23.6,258.8) rotate(-90)" font-size="10" fill="#555" text-anchor="middle" textLength="25.4" lengthAdjust="spacingAndGlyphs"><tspan font-style="italic">I</tspan> (nA)</text>
  <!-- legend -->
  <g font-size="10" fill="#4a4a4a">
    <text x="72.8" y="184.7" textLength="44.8" lengthAdjust="spacingAndGlyphs">Number of</text>
    <text x="61.4" y="197" textLength="67.6" lengthAdjust="spacingAndGlyphs">written features</text>
    <text x="88.8" y="214.8">0</text>
    <text x="136.3" y="214.9">1</text>
    <text x="88.8" y="228.5">2</text>
    <text x="136.3" y="228.5">3</text>
    <text x="88.8" y="242.2" textLength="60.3" lengthAdjust="spacingAndGlyphs">2 (after erase)</text>
  </g>
  <g stroke-width="1">
    <line x1="60.3" y1="211.5" x2="69.4" y2="211.5" stroke="#9a9090"/><line x1="77.4" y1="211.5" x2="85.6" y2="211.5" stroke="#9a9090"/>
    <line x1="109.3" y1="211.5" x2="117.3" y2="211.5" stroke="#5a5252"/><line x1="125.6" y1="211.5" x2="134.2" y2="211.5" stroke="#5a5252"/>
    <line x1="60.3" y1="225.5" x2="69.4" y2="225.5" stroke="#6a78c0"/><line x1="77.4" y1="225.5" x2="85.6" y2="225.5" stroke="#6a78c0"/>
    <line x1="109.3" y1="225.5" x2="117.3" y2="225.5" stroke="#e86a78"/><line x1="125.6" y1="225.5" x2="134.2" y2="225.5" stroke="#e86a78"/>
    <line x1="60.3" y1="238.5" x2="69.4" y2="238.5" stroke="#7ccc90"/><line x1="77.4" y1="238.5" x2="85.6" y2="238.5" stroke="#7ccc90"/>
  </g>
  <g>
    <circle cx="73.3" cy="211.5" r="1" fill="#6b5e5e"/>
    <circle cx="121.4" cy="211.5" r="1" fill="#111"/>
    <circle cx="73.3" cy="225.5" r="1" fill="#1a2a70"/>
    <circle cx="121.4" cy="225.5" r="1" fill="#c01a2a"/>
    <circle cx="73.3" cy="238.5" r="1" fill="#0d5a2a"/>
  </g>
  <text x="0.2" y="183" font-size="18.9" fill="#111" textLength="21" lengthAdjust="spacingAndGlyphs">(b)</text>
</g>

<!-- ===== arrows ===== -->
<defs>
  <marker id="ah" markerWidth="6" markerHeight="6" refX="5" refY="3" orient="auto" markerUnits="userSpaceOnUse"><path d="M0,0.6 L5.5,3 L0,5.4 Z" fill="context-stroke"/></marker>
</defs>
<g stroke-width="0.8" fill="none">
  <line x1="275.3" y1="183.8" x2="299.2" y2="203.6" stroke="#e3262b" marker-end="url(#ah)"/>
  <line x1="275.3" y1="202" x2="301.3" y2="243.8" stroke="#1a9148" marker-end="url(#ah)"/>
  <line x1="275.3" y1="204.6" x2="299.6" y2="261.1" stroke="#2d4aa0" marker-end="url(#ah)"/>
  <line x1="275.3" y1="216.7" x2="301.4" y2="303.8" stroke="#1b1111" marker-end="url(#ah)"/>
  <line x1="275.3" y1="229.6" x2="302" y2="347.9" stroke="#a08585" marker-end="url(#ah)"/>
</g>

<!-- ===== schematic blocks ===== -->
<g id="schem">
  <!-- R circuit -->
  <polyline points="319.5,178 311.3,178 311.3,189.8" fill="none" stroke="#555" stroke-width="0.9"/>
  <polyline points="336.5,177.5 344.8,177.5 344.8,189.8" fill="none" stroke="#555" stroke-width="0.9"/>
  <circle cx="328" cy="177.7" r="8.7" fill="#fff" stroke="#555" stroke-width="0.9"/>
  <text x="328.3" y="181.2" font-size="10" font-style="italic" fill="#444" text-anchor="middle">R</text>
  <!-- block 1 -->
  <rect x="305.8" y="189.4" width="45.2" height="42.8" fill="#5c9c34"/>
  <rect x="318.2" y="189.4" width="19.9" height="42.8" fill="#f7921e"/>
  <!-- block 2 -->
  <rect x="305.8" y="237.8" width="45.2" height="42.7" fill="#5c9c34"/>
  <rect x="318.2" y="237.8" width="19.9" height="42.7" fill="#f7921e"/>
  <!-- block 3 -->
  <rect x="305.8" y="286.6" width="45.2" height="42.5" fill="#5c9c34"/>
  <rect x="318.2" y="286.6" width="19.9" height="42.5" fill="#f7921e"/>
  <!-- block 4 -->
  <rect x="305.8" y="334.6" width="45.2" height="43.4" fill="#5c9c34"/>
  <rect x="318.2" y="334.6" width="19.9" height="43.4" fill="#f7921e"/>
  <!-- red bands -->
  <rect x="318.2" y="192.6" width="19.9" height="8.8" fill="#bf3f1c"/><rect x="318.2" y="193.8" width="19.9" height="6.4" fill="#e9532a"/>
  <rect x="318.2" y="206.8" width="19.9" height="8.5" fill="#bf3f1c"/><rect x="318.2" y="208.0" width="19.9" height="6.1" fill="#e9532a"/>
  <rect x="318.2" y="219.3" width="19.9" height="8.6" fill="#bf3f1c"/><rect x="318.2" y="220.5" width="19.9" height="6.2" fill="#e9532a"/>
  <rect x="318.2" y="255.0" width="19.9" height="8.8" fill="#bf3f1c"/><rect x="318.2" y="256.2" width="19.9" height="6.4" fill="#e9532a"/>
  <rect x="318.2" y="268.0" width="19.9" height="8.0" fill="#bf3f1c"/><rect x="318.2" y="269.2" width="19.9" height="5.6" fill="#e9532a"/>
  <rect x="318.2" y="315.6" width="19.9" height="9.3" fill="#bf3f1c"/><rect x="318.2" y="316.8" width="19.9" height="6.9" fill="#e9532a"/>
</g>
</g>
</g>
</svg>
</body></html>
